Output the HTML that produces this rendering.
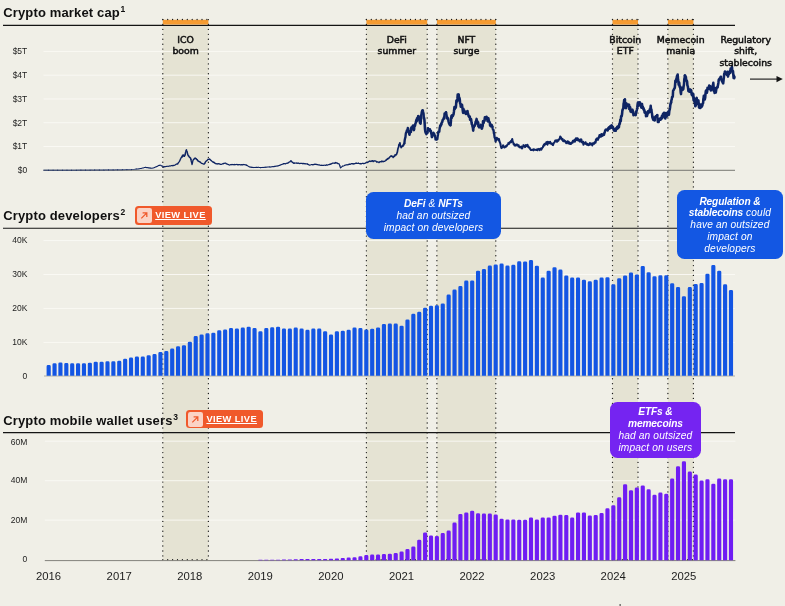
<!DOCTYPE html>
<html lang="en"><head><meta charset="utf-8"><title>Crypto market cap, developers and mobile wallet users</title>
<style>
html,body{margin:0;padding:0}
body{width:785px;height:606px;background:#f0efe7;overflow:hidden;position:relative;font-family:"Liberation Sans",sans-serif;color:#141414}
.chart{position:absolute;left:0;top:0}
h2{position:absolute;left:3.2px;margin:0;font-size:13px;line-height:16px;font-weight:700;letter-spacing:.15px;color:#101010;white-space:nowrap}
h2 sup{font-size:8.5px;line-height:0;vertical-align:baseline;position:relative;top:-4.6px;margin-left:.6px}
.yl{position:absolute;left:0;width:27.3px;text-align:right;font-size:8.5px;line-height:11px;color:#1c1c1c}
.yr{position:absolute;top:568.3px;width:40px;text-align:center;font-size:11.3px;line-height:16px;color:#1d1d1d}
.ev{position:absolute;top:33.6px;width:80px;text-align:center;font-family:"DejaVu Sans","Liberation Sans",sans-serif;font-size:9.3px;line-height:11.7px;font-weight:400;color:#121212;letter-spacing:0;-webkit-text-stroke:.52px #121212}
.btn{position:absolute;height:18.5px;width:76.7px;background:#f0592b;border-radius:3.5px;text-decoration:none;display:block}
.btn i{position:absolute;left:2.2px;top:1.8px;width:14.4px;height:15px;border-radius:2.2px;background:#fbd3c5;display:block}
.btn svg{position:absolute;left:0;top:0}
.btn span{position:absolute;left:20.2px;top:3.05px;font-size:9.3px;line-height:12px;font-weight:700;color:#fff;text-decoration:underline;text-decoration-thickness:.9px;text-underline-offset:1.2px;letter-spacing:.4px;white-space:nowrap}
.co{position:absolute;border-radius:7.5px;color:#fff;text-align:center;font-style:italic;font-size:10.2px;line-height:11.8px;letter-spacing:.13px;box-sizing:border-box}
.co b{font-weight:700;letter-spacing:-.15px}
.blue{background:#1357e3}
.purple{background:#7524f1}
</style></head><body>
<svg class="chart" width="785" height="606" viewBox="0 0 785 606">
<rect x="162.8" y="25" width="45.6" height="535.5" fill="#e5e3d3"/>
<rect x="366.4" y="25" width="60.8" height="535.5" fill="#e5e3d3"/>
<rect x="436.9" y="25" width="58.9" height="535.5" fill="#e5e3d3"/>
<rect x="612.5" y="25" width="25.5" height="535.5" fill="#e5e3d3"/>
<rect x="667.9" y="25" width="25.5" height="535.5" fill="#e5e3d3"/>
<line x1="43.5" x2="735" y1="146.5" y2="146.5" stroke="#faf9f5" stroke-width="0.9"/>
<line x1="43.5" x2="735" y1="122.7" y2="122.7" stroke="#faf9f5" stroke-width="0.9"/>
<line x1="43.5" x2="735" y1="99.0" y2="99.0" stroke="#faf9f5" stroke-width="0.9"/>
<line x1="43.5" x2="735" y1="75.2" y2="75.2" stroke="#faf9f5" stroke-width="0.9"/>
<line x1="43.5" x2="735" y1="51.4" y2="51.4" stroke="#faf9f5" stroke-width="0.9"/>
<line x1="43.5" x2="735" y1="342.4" y2="342.4" stroke="#faf9f5" stroke-width="0.9"/>
<line x1="43.5" x2="735" y1="308.4" y2="308.4" stroke="#faf9f5" stroke-width="0.9"/>
<line x1="43.5" x2="735" y1="274.5" y2="274.5" stroke="#faf9f5" stroke-width="0.9"/>
<line x1="43.5" x2="735" y1="240.6" y2="240.6" stroke="#faf9f5" stroke-width="0.9"/>
<line x1="44.8" x2="735.4" y1="520.1" y2="520.1" stroke="#faf9f5" stroke-width="0.9"/>
<line x1="44.8" x2="735.4" y1="480.7" y2="480.7" stroke="#faf9f5" stroke-width="0.9"/>
<line x1="44.8" x2="735.4" y1="441.2" y2="441.2" stroke="#faf9f5" stroke-width="0.9"/>
<line x1="43.5" x2="735" y1="170.3" y2="170.3" stroke="#6b6b66" stroke-width="0.9"/>
<line x1="44" x2="735" y1="376.0" y2="376.0" stroke="#c6c4ba" stroke-width="1.4"/>
<line x1="44.8" x2="735.4" y1="560.6" y2="560.6" stroke="#77756f" stroke-width="0.9"/>
<line x1="3" x2="735" y1="25.35" y2="25.35" stroke="#141414" stroke-width="1.1"/>
<line x1="3" x2="735" y1="228.25" y2="228.25" stroke="#141414" stroke-width="1.1"/>
<line x1="3" x2="735" y1="432.6" y2="432.6" stroke="#141414" stroke-width="1.1"/>
<rect x="162.8" y="19.8" width="45.6" height="4.7" fill="#f59b31"/>
<line x1="162.8" x2="208.4" y1="19.5" y2="19.5" stroke="#1c1c1c" stroke-width="1.3" stroke-linecap="round" stroke-dasharray="0 4.9"/>
<line x1="162.8" x2="208.4" y1="559.6" y2="559.6" stroke="#1c1c1c" stroke-width="1.3" stroke-linecap="round" stroke-dasharray="0 4.9"/>
<rect x="366.4" y="19.8" width="60.8" height="4.7" fill="#f59b31"/>
<line x1="366.4" x2="427.2" y1="19.5" y2="19.5" stroke="#1c1c1c" stroke-width="1.3" stroke-linecap="round" stroke-dasharray="0 4.9"/>
<line x1="366.4" x2="427.2" y1="559.6" y2="559.6" stroke="#1c1c1c" stroke-width="1.3" stroke-linecap="round" stroke-dasharray="0 4.9"/>
<rect x="436.9" y="19.8" width="58.9" height="4.7" fill="#f59b31"/>
<line x1="436.9" x2="495.8" y1="19.5" y2="19.5" stroke="#1c1c1c" stroke-width="1.3" stroke-linecap="round" stroke-dasharray="0 4.9"/>
<line x1="436.9" x2="495.8" y1="559.6" y2="559.6" stroke="#1c1c1c" stroke-width="1.3" stroke-linecap="round" stroke-dasharray="0 4.9"/>
<rect x="612.5" y="19.8" width="25.5" height="4.7" fill="#f59b31"/>
<line x1="612.5" x2="638.0" y1="19.5" y2="19.5" stroke="#1c1c1c" stroke-width="1.3" stroke-linecap="round" stroke-dasharray="0 4.9"/>
<line x1="612.5" x2="638.0" y1="559.6" y2="559.6" stroke="#1c1c1c" stroke-width="1.3" stroke-linecap="round" stroke-dasharray="0 4.9"/>
<rect x="667.9" y="19.8" width="25.5" height="4.7" fill="#f59b31"/>
<line x1="667.9" x2="693.4" y1="19.5" y2="19.5" stroke="#1c1c1c" stroke-width="1.3" stroke-linecap="round" stroke-dasharray="0 4.9"/>
<line x1="667.9" x2="693.4" y1="559.6" y2="559.6" stroke="#1c1c1c" stroke-width="1.3" stroke-linecap="round" stroke-dasharray="0 4.9"/>
<line x1="162.8" x2="162.8" y1="19.6" y2="560" stroke="#1c1c1c" stroke-width="1.35" stroke-linecap="round" stroke-dasharray="0 4.92"/>
<line x1="208.4" x2="208.4" y1="19.6" y2="560" stroke="#1c1c1c" stroke-width="1.35" stroke-linecap="round" stroke-dasharray="0 4.92"/>
<line x1="366.4" x2="366.4" y1="19.6" y2="560" stroke="#1c1c1c" stroke-width="1.35" stroke-linecap="round" stroke-dasharray="0 4.92"/>
<line x1="427.2" x2="427.2" y1="19.6" y2="560" stroke="#1c1c1c" stroke-width="1.35" stroke-linecap="round" stroke-dasharray="0 4.92"/>
<line x1="436.9" x2="436.9" y1="19.6" y2="560" stroke="#1c1c1c" stroke-width="1.35" stroke-linecap="round" stroke-dasharray="0 4.92"/>
<line x1="495.8" x2="495.8" y1="19.6" y2="560" stroke="#1c1c1c" stroke-width="1.35" stroke-linecap="round" stroke-dasharray="0 4.92"/>
<line x1="612.5" x2="612.5" y1="19.6" y2="560" stroke="#1c1c1c" stroke-width="1.35" stroke-linecap="round" stroke-dasharray="0 4.92"/>
<line x1="638.0" x2="638.0" y1="19.6" y2="560" stroke="#1c1c1c" stroke-width="1.35" stroke-linecap="round" stroke-dasharray="0 4.92"/>
<line x1="667.9" x2="667.9" y1="19.6" y2="560" stroke="#1c1c1c" stroke-width="1.35" stroke-linecap="round" stroke-dasharray="0 4.92"/>
<line x1="693.4" x2="693.4" y1="19.6" y2="560" stroke="#1c1c1c" stroke-width="1.35" stroke-linecap="round" stroke-dasharray="0 4.92"/>
<path d="M46.60,375.8 V366.50 Q46.60,365.10 48.00,365.10 H49.35 Q50.75,365.10 50.75,366.50 V375.8 ZM52.48,375.8 V364.60 Q52.48,363.20 53.88,363.20 H55.23 Q56.63,363.20 56.63,364.60 V375.8 ZM58.36,375.8 V363.80 Q58.36,362.40 59.76,362.40 H61.11 Q62.51,362.40 62.51,363.80 V375.8 ZM64.25,375.8 V364.50 Q64.25,363.10 65.65,363.10 H67.00 Q68.40,363.10 68.40,364.50 V375.8 ZM70.13,375.8 V364.70 Q70.13,363.30 71.53,363.30 H72.88 Q74.28,363.30 74.28,364.70 V375.8 ZM76.01,375.8 V364.70 Q76.01,363.30 77.41,363.30 H78.76 Q80.16,363.30 80.16,364.70 V375.8 ZM81.89,375.8 V364.70 Q81.89,363.30 83.29,363.30 H84.64 Q86.04,363.30 86.04,364.70 V375.8 ZM87.77,375.8 V364.10 Q87.77,362.70 89.17,362.70 H90.52 Q91.92,362.70 91.92,364.10 V375.8 ZM93.66,375.8 V363.10 Q93.66,361.70 95.06,361.70 H96.41 Q97.81,361.70 97.81,363.10 V375.8 ZM99.54,375.8 V363.10 Q99.54,361.70 100.94,361.70 H102.29 Q103.69,361.70 103.69,363.10 V375.8 ZM105.42,375.8 V362.70 Q105.42,361.30 106.82,361.30 H108.17 Q109.57,361.30 109.57,362.70 V375.8 ZM111.30,375.8 V362.70 Q111.30,361.30 112.70,361.30 H114.05 Q115.45,361.30 115.45,362.70 V375.8 ZM117.18,375.8 V362.20 Q117.18,360.80 118.58,360.80 H119.93 Q121.33,360.80 121.33,362.20 V375.8 ZM123.07,375.8 V360.20 Q123.07,358.80 124.47,358.80 H125.82 Q127.22,358.80 127.22,360.20 V375.8 ZM128.95,375.8 V358.90 Q128.95,357.50 130.35,357.50 H131.70 Q133.10,357.50 133.10,358.90 V375.8 ZM134.83,375.8 V357.90 Q134.83,356.50 136.23,356.50 H137.58 Q138.98,356.50 138.98,357.90 V375.8 ZM140.71,375.8 V357.90 Q140.71,356.50 142.11,356.50 H143.46 Q144.86,356.50 144.86,357.90 V375.8 ZM146.59,375.8 V356.60 Q146.59,355.20 147.99,355.20 H149.34 Q150.74,355.20 150.74,356.60 V375.8 ZM152.48,375.8 V355.40 Q152.48,354.00 153.88,354.00 H155.23 Q156.63,354.00 156.63,355.40 V375.8 ZM158.36,375.8 V353.40 Q158.36,352.00 159.76,352.00 H161.11 Q162.51,352.00 162.51,353.40 V375.8 ZM164.24,375.8 V352.40 Q164.24,351.00 165.64,351.00 H166.99 Q168.39,351.00 168.39,352.40 V375.8 ZM170.12,375.8 V350.00 Q170.12,348.60 171.52,348.60 H172.87 Q174.27,348.60 174.27,350.00 V375.8 ZM176.00,375.8 V347.70 Q176.00,346.30 177.40,346.30 H178.75 Q180.15,346.30 180.15,347.70 V375.8 ZM181.89,375.8 V346.60 Q181.89,345.20 183.29,345.20 H184.64 Q186.04,345.20 186.04,346.60 V375.8 ZM187.77,375.8 V343.10 Q187.77,341.70 189.17,341.70 H190.52 Q191.92,341.70 191.92,343.10 V375.8 ZM193.65,375.8 V337.40 Q193.65,336.00 195.05,336.00 H196.40 Q197.80,336.00 197.80,337.40 V375.8 ZM199.53,375.8 V335.80 Q199.53,334.40 200.93,334.40 H202.28 Q203.68,334.40 203.68,335.80 V375.8 ZM205.41,375.8 V334.70 Q205.41,333.30 206.81,333.30 H208.16 Q209.56,333.30 209.56,334.70 V375.8 ZM211.30,375.8 V334.10 Q211.30,332.70 212.70,332.70 H214.05 Q215.45,332.70 215.45,334.10 V375.8 ZM217.18,375.8 V331.60 Q217.18,330.20 218.58,330.20 H219.93 Q221.33,330.20 221.33,331.60 V375.8 ZM223.06,375.8 V330.90 Q223.06,329.50 224.46,329.50 H225.81 Q227.21,329.50 227.21,330.90 V375.8 ZM228.94,375.8 V329.50 Q228.94,328.10 230.34,328.10 H231.69 Q233.09,328.10 233.09,329.50 V375.8 ZM234.82,375.8 V330.00 Q234.82,328.60 236.22,328.60 H237.57 Q238.97,328.60 238.97,330.00 V375.8 ZM240.71,375.8 V329.00 Q240.71,327.60 242.11,327.60 H243.46 Q244.86,327.60 244.86,329.00 V375.8 ZM246.59,375.8 V328.10 Q246.59,326.70 247.99,326.70 H249.34 Q250.74,326.70 250.74,328.10 V375.8 ZM252.47,375.8 V329.50 Q252.47,328.10 253.87,328.10 H255.22 Q256.62,328.10 256.62,329.50 V375.8 ZM258.35,375.8 V332.60 Q258.35,331.20 259.75,331.20 H261.10 Q262.50,331.20 262.50,332.60 V375.8 ZM264.23,375.8 V329.50 Q264.23,328.10 265.63,328.10 H266.98 Q268.38,328.10 268.38,329.50 V375.8 ZM270.12,375.8 V328.70 Q270.12,327.30 271.52,327.30 H272.87 Q274.27,327.30 274.27,328.70 V375.8 ZM276.00,375.8 V328.10 Q276.00,326.70 277.40,326.70 H278.75 Q280.15,326.70 280.15,328.10 V375.8 ZM281.88,375.8 V330.00 Q281.88,328.60 283.28,328.60 H284.63 Q286.03,328.60 286.03,330.00 V375.8 ZM287.76,375.8 V330.00 Q287.76,328.60 289.16,328.60 H290.51 Q291.91,328.60 291.91,330.00 V375.8 ZM293.64,375.8 V329.00 Q293.64,327.60 295.04,327.60 H296.39 Q297.79,327.60 297.79,329.00 V375.8 ZM299.53,375.8 V330.00 Q299.53,328.60 300.93,328.60 H302.28 Q303.68,328.60 303.68,330.00 V375.8 ZM305.41,375.8 V331.20 Q305.41,329.80 306.81,329.80 H308.16 Q309.56,329.80 309.56,331.20 V375.8 ZM311.29,375.8 V330.00 Q311.29,328.60 312.69,328.60 H314.04 Q315.44,328.60 315.44,330.00 V375.8 ZM317.17,375.8 V330.00 Q317.17,328.60 318.57,328.60 H319.92 Q321.32,328.60 321.32,330.00 V375.8 ZM323.05,375.8 V332.60 Q323.05,331.20 324.45,331.20 H325.80 Q327.20,331.20 327.20,332.60 V375.8 ZM328.94,375.8 V335.80 Q328.94,334.40 330.34,334.40 H331.69 Q333.09,334.40 333.09,335.80 V375.8 ZM334.82,375.8 V332.60 Q334.82,331.20 336.22,331.20 H337.57 Q338.97,331.20 338.97,332.60 V375.8 ZM340.70,375.8 V332.10 Q340.70,330.70 342.10,330.70 H343.45 Q344.85,330.70 344.85,332.10 V375.8 ZM346.58,375.8 V331.20 Q346.58,329.80 347.98,329.80 H349.33 Q350.73,329.80 350.73,331.20 V375.8 ZM352.46,375.8 V329.00 Q352.46,327.60 353.86,327.60 H355.21 Q356.61,327.60 356.61,329.00 V375.8 ZM358.35,375.8 V329.50 Q358.35,328.10 359.75,328.10 H361.10 Q362.50,328.10 362.50,329.50 V375.8 ZM364.23,375.8 V331.00 Q364.23,329.60 365.63,329.60 H366.98 Q368.38,329.60 368.38,331.00 V375.8 ZM370.11,375.8 V330.10 Q370.11,328.70 371.51,328.70 H372.86 Q374.26,328.70 374.26,330.10 V375.8 ZM375.99,375.8 V328.80 Q375.99,327.40 377.39,327.40 H378.74 Q380.14,327.40 380.14,328.80 V375.8 ZM381.87,375.8 V325.30 Q381.87,323.90 383.27,323.90 H384.62 Q386.02,323.90 386.02,325.30 V375.8 ZM387.76,375.8 V324.90 Q387.76,323.50 389.16,323.50 H390.51 Q391.91,323.50 391.91,324.90 V375.8 ZM393.64,375.8 V324.90 Q393.64,323.50 395.04,323.50 H396.39 Q397.79,323.50 397.79,324.90 V375.8 ZM399.52,375.8 V327.10 Q399.52,325.70 400.92,325.70 H402.27 Q403.67,325.70 403.67,327.10 V375.8 ZM405.40,375.8 V320.80 Q405.40,319.40 406.80,319.40 H408.15 Q409.55,319.40 409.55,320.80 V375.8 ZM411.28,375.8 V315.20 Q411.28,313.80 412.68,313.80 H414.03 Q415.43,313.80 415.43,315.20 V375.8 ZM417.17,375.8 V313.20 Q417.17,311.80 418.57,311.80 H419.92 Q421.32,311.80 421.32,313.20 V375.8 ZM423.05,375.8 V309.10 Q423.05,307.70 424.45,307.70 H425.80 Q427.20,307.70 427.20,309.10 V375.8 ZM428.93,375.8 V307.20 Q428.93,305.80 430.33,305.80 H431.68 Q433.08,305.80 433.08,307.20 V375.8 ZM434.81,375.8 V306.70 Q434.81,305.30 436.21,305.30 H437.56 Q438.96,305.30 438.96,306.70 V375.8 ZM440.69,375.8 V304.80 Q440.69,303.40 442.09,303.40 H443.44 Q444.84,303.40 444.84,304.80 V375.8 ZM446.58,375.8 V295.90 Q446.58,294.50 447.98,294.50 H449.33 Q450.73,294.50 450.73,295.90 V375.8 ZM452.46,375.8 V290.90 Q452.46,289.50 453.86,289.50 H455.21 Q456.61,289.50 456.61,290.90 V375.8 ZM458.34,375.8 V287.40 Q458.34,286.00 459.74,286.00 H461.09 Q462.49,286.00 462.49,287.40 V375.8 ZM464.22,375.8 V282.00 Q464.22,280.60 465.62,280.60 H466.97 Q468.37,280.60 468.37,282.00 V375.8 ZM470.10,375.8 V281.80 Q470.10,280.40 471.50,280.40 H472.85 Q474.25,280.40 474.25,281.80 V375.8 ZM475.99,375.8 V272.10 Q475.99,270.70 477.39,270.70 H478.74 Q480.14,270.70 480.14,272.10 V375.8 ZM481.87,375.8 V270.50 Q481.87,269.10 483.27,269.10 H484.62 Q486.02,269.10 486.02,270.50 V375.8 ZM487.75,375.8 V266.90 Q487.75,265.50 489.15,265.50 H490.50 Q491.90,265.50 491.90,266.90 V375.8 ZM493.63,375.8 V265.80 Q493.63,264.40 495.03,264.40 H496.38 Q497.78,264.40 497.78,265.80 V375.8 ZM499.51,375.8 V264.90 Q499.51,263.50 500.91,263.50 H502.26 Q503.66,263.50 503.66,264.90 V375.8 ZM505.40,375.8 V266.90 Q505.40,265.50 506.80,265.50 H508.15 Q509.55,265.50 509.55,266.90 V375.8 ZM511.28,375.8 V266.20 Q511.28,264.80 512.68,264.80 H514.03 Q515.43,264.80 515.43,266.20 V375.8 ZM517.16,375.8 V262.70 Q517.16,261.30 518.56,261.30 H519.91 Q521.31,261.30 521.31,262.70 V375.8 ZM523.04,375.8 V262.80 Q523.04,261.40 524.44,261.40 H525.79 Q527.19,261.40 527.19,262.80 V375.8 ZM528.92,375.8 V261.50 Q528.92,260.10 530.32,260.10 H531.67 Q533.07,260.10 533.07,261.50 V375.8 ZM534.81,375.8 V267.10 Q534.81,265.70 536.21,265.70 H537.56 Q538.96,265.70 538.96,267.10 V375.8 ZM540.69,375.8 V279.00 Q540.69,277.60 542.09,277.60 H543.44 Q544.84,277.60 544.84,279.00 V375.8 ZM546.57,375.8 V272.10 Q546.57,270.70 547.97,270.70 H549.32 Q550.72,270.70 550.72,272.10 V375.8 ZM552.45,375.8 V268.60 Q552.45,267.20 553.85,267.20 H555.20 Q556.60,267.20 556.60,268.60 V375.8 ZM558.33,375.8 V271.00 Q558.33,269.60 559.73,269.60 H561.08 Q562.48,269.60 562.48,271.00 V375.8 ZM564.22,375.8 V276.80 Q564.22,275.40 565.62,275.40 H566.97 Q568.37,275.40 568.37,276.80 V375.8 ZM570.10,375.8 V279.00 Q570.10,277.60 571.50,277.60 H572.85 Q574.25,277.60 574.25,279.00 V375.8 ZM575.98,375.8 V279.00 Q575.98,277.60 577.38,277.60 H578.73 Q580.13,277.60 580.13,279.00 V375.8 ZM581.86,375.8 V281.20 Q581.86,279.80 583.26,279.80 H584.61 Q586.01,279.80 586.01,281.20 V375.8 ZM587.74,375.8 V282.70 Q587.74,281.30 589.14,281.30 H590.49 Q591.89,281.30 591.89,282.70 V375.8 ZM593.63,375.8 V281.20 Q593.63,279.80 595.03,279.80 H596.38 Q597.78,279.80 597.78,281.20 V375.8 ZM599.51,375.8 V279.00 Q599.51,277.60 600.91,277.60 H602.26 Q603.66,277.60 603.66,279.00 V375.8 ZM605.39,375.8 V278.60 Q605.39,277.20 606.79,277.20 H608.14 Q609.54,277.20 609.54,278.60 V375.8 ZM611.27,375.8 V285.70 Q611.27,284.30 612.67,284.30 H614.02 Q615.42,284.30 615.42,285.70 V375.8 ZM617.15,375.8 V279.60 Q617.15,278.20 618.55,278.20 H619.90 Q621.30,278.20 621.30,279.60 V375.8 ZM623.04,375.8 V276.80 Q623.04,275.40 624.44,275.40 H625.79 Q627.19,275.40 627.19,276.80 V375.8 ZM628.92,375.8 V273.80 Q628.92,272.40 630.32,272.40 H631.67 Q633.07,272.40 633.07,273.80 V375.8 ZM634.80,375.8 V276.00 Q634.80,274.60 636.20,274.60 H637.55 Q638.95,274.60 638.95,276.00 V375.8 ZM640.68,375.8 V267.30 Q640.68,265.90 642.08,265.90 H643.43 Q644.83,265.90 644.83,267.30 V375.8 ZM646.56,375.8 V273.60 Q646.56,272.20 647.96,272.20 H649.31 Q650.71,272.20 650.71,273.60 V375.8 ZM652.45,375.8 V277.60 Q652.45,276.20 653.85,276.20 H655.20 Q656.60,276.20 656.60,277.60 V375.8 ZM658.33,375.8 V276.70 Q658.33,275.30 659.73,275.30 H661.08 Q662.48,275.30 662.48,276.70 V375.8 ZM664.21,375.8 V276.70 Q664.21,275.30 665.61,275.30 H666.96 Q668.36,275.30 668.36,276.70 V375.8 ZM670.09,375.8 V284.60 Q670.09,283.20 671.49,283.20 H672.84 Q674.24,283.20 674.24,284.60 V375.8 ZM675.97,375.8 V288.30 Q675.97,286.90 677.37,286.90 H678.72 Q680.12,286.90 680.12,288.30 V375.8 ZM681.86,375.8 V297.60 Q681.86,296.20 683.26,296.20 H684.61 Q686.01,296.20 686.01,297.60 V375.8 ZM687.74,375.8 V288.50 Q687.74,287.10 689.14,287.10 H690.49 Q691.89,287.10 691.89,288.50 V375.8 ZM693.62,375.8 V285.40 Q693.62,284.00 695.02,284.00 H696.37 Q697.77,284.00 697.77,285.40 V375.8 ZM699.50,375.8 V284.40 Q699.50,283.00 700.90,283.00 H702.25 Q703.65,283.00 703.65,284.40 V375.8 ZM705.38,375.8 V275.10 Q705.38,273.70 706.78,273.70 H708.13 Q709.53,273.70 709.53,275.10 V375.8 ZM711.27,375.8 V266.50 Q711.27,265.10 712.67,265.10 H714.02 Q715.42,265.10 715.42,266.50 V375.8 ZM717.15,375.8 V272.10 Q717.15,270.70 718.55,270.70 H719.90 Q721.30,270.70 721.30,272.10 V375.8 ZM723.03,375.8 V285.70 Q723.03,284.30 724.43,284.30 H725.78 Q727.18,284.30 727.18,285.70 V375.8 ZM728.91,375.8 V291.30 Q728.91,289.90 730.31,289.90 H731.66 Q733.06,289.90 733.06,291.30 V375.8 Z" fill="#1355e3"/>
<path d="M258.35,560.2 V560.00 Q258.35,559.80 258.55,559.80 H262.30 Q262.50,559.80 262.50,560.00 V560.2 ZM264.23,560.2 V560.00 Q264.23,559.80 264.43,559.80 H268.18 Q268.38,559.80 268.38,560.00 V560.2 ZM270.12,560.2 V559.95 Q270.12,559.70 270.37,559.70 H274.02 Q274.27,559.70 274.27,559.95 V560.2 ZM276.00,560.2 V559.95 Q276.00,559.70 276.25,559.70 H279.90 Q280.15,559.70 280.15,559.95 V560.2 ZM281.88,560.2 V559.90 Q281.88,559.60 282.18,559.60 H285.73 Q286.03,559.60 286.03,559.90 V560.2 ZM287.76,560.2 V559.85 Q287.76,559.50 288.11,559.50 H291.56 Q291.91,559.50 291.91,559.85 V560.2 ZM293.64,560.2 V559.75 Q293.64,559.30 294.09,559.30 H297.34 Q297.79,559.30 297.79,559.75 V560.2 ZM299.53,560.2 V559.55 Q299.53,558.90 300.18,558.90 H303.03 Q303.68,558.90 303.68,559.55 V560.2 ZM305.41,560.2 V559.55 Q305.41,558.90 306.06,558.90 H308.91 Q309.56,558.90 309.56,559.55 V560.2 ZM311.29,560.2 V559.55 Q311.29,558.90 311.94,558.90 H314.79 Q315.44,558.90 315.44,559.55 V560.2 ZM317.17,560.2 V559.55 Q317.17,558.90 317.82,558.90 H320.67 Q321.32,558.90 321.32,559.55 V560.2 ZM323.05,560.2 V559.55 Q323.05,558.90 323.70,558.90 H326.55 Q327.20,558.90 327.20,559.55 V560.2 ZM328.94,560.2 V559.45 Q328.94,558.70 329.69,558.70 H332.34 Q333.09,558.70 333.09,559.45 V560.2 ZM334.82,560.2 V559.35 Q334.82,558.50 335.67,558.50 H338.12 Q338.97,558.50 338.97,559.35 V560.2 ZM340.70,560.2 V559.10 Q340.70,558.00 341.80,558.00 H343.75 Q344.85,558.00 344.85,559.10 V560.2 ZM346.58,560.2 V558.90 Q346.58,557.60 347.88,557.60 H349.43 Q350.73,557.60 350.73,558.90 V560.2 ZM352.46,560.2 V558.60 Q352.46,557.20 353.86,557.20 H355.21 Q356.61,557.20 356.61,558.60 V560.2 ZM358.35,560.2 V557.70 Q358.35,556.30 359.75,556.30 H361.10 Q362.50,556.30 362.50,557.70 V560.2 ZM364.23,560.2 V556.40 Q364.23,555.00 365.63,555.00 H366.98 Q368.38,555.00 368.38,556.40 V560.2 ZM370.11,560.2 V556.00 Q370.11,554.60 371.51,554.60 H372.86 Q374.26,554.60 374.26,556.00 V560.2 ZM375.99,560.2 V556.00 Q375.99,554.60 377.39,554.60 H378.74 Q380.14,554.60 380.14,556.00 V560.2 ZM381.87,560.2 V555.50 Q381.87,554.10 383.27,554.10 H384.62 Q386.02,554.10 386.02,555.50 V560.2 ZM387.76,560.2 V555.10 Q387.76,553.70 389.16,553.70 H390.51 Q391.91,553.70 391.91,555.10 V560.2 ZM393.64,560.2 V554.30 Q393.64,552.90 395.04,552.90 H396.39 Q397.79,552.90 397.79,554.30 V560.2 ZM399.52,560.2 V552.80 Q399.52,551.40 400.92,551.40 H402.27 Q403.67,551.40 403.67,552.80 V560.2 ZM405.40,560.2 V550.40 Q405.40,549.00 406.80,549.00 H408.15 Q409.55,549.00 409.55,550.40 V560.2 ZM411.28,560.2 V547.80 Q411.28,546.40 412.68,546.40 H414.03 Q415.43,546.40 415.43,547.80 V560.2 ZM417.17,560.2 V541.10 Q417.17,539.70 418.57,539.70 H419.92 Q421.32,539.70 421.32,541.10 V560.2 ZM423.05,560.2 V533.80 Q423.05,532.40 424.45,532.40 H425.80 Q427.20,532.40 427.20,533.80 V560.2 ZM428.93,560.2 V537.00 Q428.93,535.60 430.33,535.60 H431.68 Q433.08,535.60 433.08,537.00 V560.2 ZM434.81,560.2 V537.40 Q434.81,536.00 436.21,536.00 H437.56 Q438.96,536.00 438.96,537.40 V560.2 ZM440.69,560.2 V534.40 Q440.69,533.00 442.09,533.00 H443.44 Q444.84,533.00 444.84,534.40 V560.2 ZM446.58,560.2 V532.00 Q446.58,530.60 447.98,530.60 H449.33 Q450.73,530.60 450.73,532.00 V560.2 ZM452.46,560.2 V524.00 Q452.46,522.60 453.86,522.60 H455.21 Q456.61,522.60 456.61,524.00 V560.2 ZM458.34,560.2 V515.30 Q458.34,513.90 459.74,513.90 H461.09 Q462.49,513.90 462.49,515.30 V560.2 ZM464.22,560.2 V513.80 Q464.22,512.40 465.62,512.40 H466.97 Q468.37,512.40 468.37,513.80 V560.2 ZM470.10,560.2 V512.10 Q470.10,510.70 471.50,510.70 H472.85 Q474.25,510.70 474.25,512.10 V560.2 ZM475.99,560.2 V514.70 Q475.99,513.30 477.39,513.30 H478.74 Q480.14,513.30 480.14,514.70 V560.2 ZM481.87,560.2 V514.90 Q481.87,513.50 483.27,513.50 H484.62 Q486.02,513.50 486.02,514.90 V560.2 ZM487.75,560.2 V514.90 Q487.75,513.50 489.15,513.50 H490.50 Q491.90,513.50 491.90,514.90 V560.2 ZM493.63,560.2 V515.80 Q493.63,514.40 495.03,514.40 H496.38 Q497.78,514.40 497.78,515.80 V560.2 ZM499.51,560.2 V520.10 Q499.51,518.70 500.91,518.70 H502.26 Q503.66,518.70 503.66,520.10 V560.2 ZM505.40,560.2 V520.80 Q505.40,519.40 506.80,519.40 H508.15 Q509.55,519.40 509.55,520.80 V560.2 ZM511.28,560.2 V520.80 Q511.28,519.40 512.68,519.40 H514.03 Q515.43,519.40 515.43,520.80 V560.2 ZM517.16,560.2 V521.20 Q517.16,519.80 518.56,519.80 H519.91 Q521.31,519.80 521.31,521.20 V560.2 ZM523.04,560.2 V521.20 Q523.04,519.80 524.44,519.80 H525.79 Q527.19,519.80 527.19,521.20 V560.2 ZM528.92,560.2 V518.80 Q528.92,517.40 530.32,517.40 H531.67 Q533.07,517.40 533.07,518.80 V560.2 ZM534.81,560.2 V520.80 Q534.81,519.40 536.21,519.40 H537.56 Q538.96,519.40 538.96,520.80 V560.2 ZM540.69,560.2 V518.80 Q540.69,517.40 542.09,517.40 H543.44 Q544.84,517.40 544.84,518.80 V560.2 ZM546.57,560.2 V518.80 Q546.57,517.40 547.97,517.40 H549.32 Q550.72,517.40 550.72,518.80 V560.2 ZM552.45,560.2 V517.10 Q552.45,515.70 553.85,515.70 H555.20 Q556.60,515.70 556.60,517.10 V560.2 ZM558.33,560.2 V516.10 Q558.33,514.70 559.73,514.70 H561.08 Q562.48,514.70 562.48,516.10 V560.2 ZM564.22,560.2 V516.30 Q564.22,514.90 565.62,514.90 H566.97 Q568.37,514.90 568.37,516.30 V560.2 ZM570.10,560.2 V518.90 Q570.10,517.50 571.50,517.50 H572.85 Q574.25,517.50 574.25,518.90 V560.2 ZM575.98,560.2 V513.80 Q575.98,512.40 577.38,512.40 H578.73 Q580.13,512.40 580.13,513.80 V560.2 ZM581.86,560.2 V513.80 Q581.86,512.40 583.26,512.40 H584.61 Q586.01,512.40 586.01,513.80 V560.2 ZM587.74,560.2 V516.80 Q587.74,515.40 589.14,515.40 H590.49 Q591.89,515.40 591.89,516.80 V560.2 ZM593.63,560.2 V516.30 Q593.63,514.90 595.03,514.90 H596.38 Q597.78,514.90 597.78,516.30 V560.2 ZM599.51,560.2 V514.30 Q599.51,512.90 600.91,512.90 H602.26 Q603.66,512.90 603.66,514.30 V560.2 ZM605.39,560.2 V509.70 Q605.39,508.30 606.79,508.30 H608.14 Q609.54,508.30 609.54,509.70 V560.2 ZM611.27,560.2 V506.70 Q611.27,505.30 612.67,505.30 H614.02 Q615.42,505.30 615.42,506.70 V560.2 ZM617.15,560.2 V498.70 Q617.15,497.30 618.55,497.30 H619.90 Q621.30,497.30 621.30,498.70 V560.2 ZM623.04,560.2 V485.60 Q623.04,484.20 624.44,484.20 H625.79 Q627.19,484.20 627.19,485.60 V560.2 ZM628.92,560.2 V491.60 Q628.92,490.20 630.32,490.20 H631.67 Q633.07,490.20 633.07,491.60 V560.2 ZM634.80,560.2 V488.80 Q634.80,487.40 636.20,487.40 H637.55 Q638.95,487.40 638.95,488.80 V560.2 ZM640.68,560.2 V486.80 Q640.68,485.40 642.08,485.40 H643.43 Q644.83,485.40 644.83,486.80 V560.2 ZM646.56,560.2 V490.70 Q646.56,489.30 647.96,489.30 H649.31 Q650.71,489.30 650.71,490.70 V560.2 ZM652.45,560.2 V496.20 Q652.45,494.80 653.85,494.80 H655.20 Q656.60,494.80 656.60,496.20 V560.2 ZM658.33,560.2 V493.90 Q658.33,492.50 659.73,492.50 H661.08 Q662.48,492.50 662.48,493.90 V560.2 ZM664.21,560.2 V495.20 Q664.21,493.80 665.61,493.80 H666.96 Q668.36,493.80 668.36,495.20 V560.2 ZM670.09,560.2 V479.90 Q670.09,478.50 671.49,478.50 H672.84 Q674.24,478.50 674.24,479.90 V560.2 ZM675.97,560.2 V467.70 Q675.97,466.30 677.37,466.30 H678.72 Q680.12,466.30 680.12,467.70 V560.2 ZM681.86,560.2 V462.70 Q681.86,461.30 683.26,461.30 H684.61 Q686.01,461.30 686.01,462.70 V560.2 ZM687.74,560.2 V473.00 Q687.74,471.60 689.14,471.60 H690.49 Q691.89,471.60 691.89,473.00 V560.2 ZM693.62,560.2 V476.00 Q693.62,474.60 695.02,474.60 H696.37 Q697.77,474.60 697.77,476.00 V560.2 ZM699.50,560.2 V481.90 Q699.50,480.50 700.90,480.50 H702.25 Q703.65,480.50 703.65,481.90 V560.2 ZM705.38,560.2 V480.60 Q705.38,479.20 706.78,479.20 H708.13 Q709.53,479.20 709.53,480.60 V560.2 ZM711.27,560.2 V485.10 Q711.27,483.70 712.67,483.70 H714.02 Q715.42,483.70 715.42,485.10 V560.2 ZM717.15,560.2 V479.90 Q717.15,478.50 718.55,478.50 H719.90 Q721.30,478.50 721.30,479.90 V560.2 ZM723.03,560.2 V480.60 Q723.03,479.20 724.43,479.20 H725.78 Q727.18,479.20 727.18,480.60 V560.2 ZM728.91,560.2 V480.60 Q728.91,479.20 730.31,479.20 H731.66 Q733.06,479.20 733.06,480.60 V560.2 Z" fill="#6f1df3"/>
<path d="M43.8,170.2 L44.1,170.2 L44.5,170.2 L44.8,170.2 L45.1,170.2 L45.5,170.2 L45.8,170.2 L46.1,170.2 L46.5,170.2 L46.8,170.2 L47.1,170.2 L47.4,170.2 L47.8,170.2 L48.1,170.2 L48.4,170.2" fill="none" stroke="#0e2463" stroke-width="0.95" stroke-linejoin="round" stroke-linecap="round"/>
<path d="M48.4,170.2 L48.8,170.2 L49.1,170.2 L49.4,170.2 L49.8,170.2 L50.1,170.2 L50.4,170.2 L50.8,170.2 L51.1,170.2 L51.4,170.2 L51.8,170.2 L52.1,170.2 L52.4,170.2 L52.8,170.2 L53.1,170.2" fill="none" stroke="#0e2463" stroke-width="0.95" stroke-linejoin="round" stroke-linecap="round"/>
<path d="M53.1,170.2 L53.4,170.2 L53.7,170.2 L54.1,170.2 L54.4,170.2 L54.7,170.2 L55.1,170.2 L55.4,170.2 L55.7,170.2 L56.1,170.2 L56.4,170.2 L56.7,170.2 L57.1,170.2 L57.4,170.2 L57.7,170.2" fill="none" stroke="#0e2463" stroke-width="0.95" stroke-linejoin="round" stroke-linecap="round"/>
<path d="M57.7,170.2 L58.1,170.2 L58.4,170.2 L58.7,170.2 L59.1,170.2 L59.4,170.2 L59.7,170.2 L60.1,170.2 L60.4,170.2 L60.7,170.2 L61.0,170.2 L61.4,170.2 L61.7,170.2 L62.0,170.2 L62.4,170.2" fill="none" stroke="#0e2463" stroke-width="0.95" stroke-linejoin="round" stroke-linecap="round"/>
<path d="M62.4,170.2 L62.7,170.2 L63.0,170.2 L63.4,170.2 L63.7,170.2 L64.0,170.2 L64.4,170.2 L64.7,170.2 L65.0,170.2 L65.4,170.2 L65.7,170.2 L66.0,170.2 L66.4,170.2 L66.7,170.2 L67.0,170.2" fill="none" stroke="#0e2463" stroke-width="0.95" stroke-linejoin="round" stroke-linecap="round"/>
<path d="M67.0,170.2 L67.3,170.2 L67.7,170.2 L68.0,170.2 L68.3,170.2 L68.7,170.2 L69.0,170.2 L69.3,170.2 L69.7,170.2 L70.0,170.2 L70.3,170.2 L70.7,170.2 L71.0,170.2 L71.3,170.2 L71.6,170.2" fill="none" stroke="#0e2463" stroke-width="0.95" stroke-linejoin="round" stroke-linecap="round"/>
<path d="M71.6,170.2 L72.0,170.2 L72.3,170.2 L72.6,170.2 L73.0,170.2 L73.3,170.2 L73.6,170.2 L74.0,170.2 L74.3,170.2 L74.6,170.2 L74.9,170.2 L75.3,170.2 L75.6,170.2 L75.9,170.2 L76.3,170.2" fill="none" stroke="#0e2463" stroke-width="0.95" stroke-linejoin="round" stroke-linecap="round"/>
<path d="M76.3,170.2 L76.6,170.2 L76.9,170.2 L77.3,170.2 L77.6,170.1 L77.9,170.1 L78.2,170.1 L78.6,170.1 L78.9,170.1 L79.2,170.1 L79.6,170.1 L79.9,170.1 L80.2,170.1 L80.5,170.1 L80.9,170.1" fill="none" stroke="#0e2463" stroke-width="0.96" stroke-linejoin="round" stroke-linecap="round"/>
<path d="M80.9,170.1 L81.2,170.1 L81.5,170.1 L81.9,170.1 L82.2,170.1 L82.5,170.1 L82.9,170.1 L83.2,170.1 L83.5,170.1 L83.8,170.1 L84.2,170.1 L84.5,170.1 L84.8,170.1 L85.2,170.1 L85.5,170.1" fill="none" stroke="#0e2463" stroke-width="0.96" stroke-linejoin="round" stroke-linecap="round"/>
<path d="M85.5,170.1 L85.8,170.1 L86.2,170.1 L86.5,170.1 L86.8,170.1 L87.1,170.1 L87.5,170.1 L87.8,170.1 L88.1,170.1 L88.5,170.1 L88.8,170.1 L89.1,170.1 L89.5,170.1 L89.8,170.1 L90.1,170.1" fill="none" stroke="#0e2463" stroke-width="0.96" stroke-linejoin="round" stroke-linecap="round"/>
<path d="M90.1,170.1 L90.4,170.1 L90.8,170.1 L91.1,170.0 L91.4,170.0 L91.8,170.0 L92.1,170.0 L92.4,170.0 L92.7,170.1 L93.1,170.1 L93.4,170.1 L93.7,170.1 L94.1,170.1 L94.4,170.0 L94.7,170.0" fill="none" stroke="#0e2463" stroke-width="0.96" stroke-linejoin="round" stroke-linecap="round"/>
<path d="M94.7,170.0 L95.1,170.0 L95.4,170.0 L95.7,170.0 L96.0,170.0 L96.4,170.0 L96.7,170.0 L97.0,170.0 L97.4,170.0 L97.7,170.0 L98.0,170.0 L98.4,170.0 L98.7,170.0 L99.0,170.0 L99.3,170.0" fill="none" stroke="#0e2463" stroke-width="0.96" stroke-linejoin="round" stroke-linecap="round"/>
<path d="M99.3,170.0 L99.7,170.0 L100.0,170.0 L100.3,170.0 L100.7,170.0 L101.0,170.0 L101.3,170.0 L101.6,170.0 L102.0,170.0 L102.3,170.0 L102.6,170.0 L103.0,170.0 L103.3,170.0 L103.6,170.0 L103.9,170.0" fill="none" stroke="#0e2463" stroke-width="0.96" stroke-linejoin="round" stroke-linecap="round"/>
<path d="M103.9,170.0 L104.3,170.0 L104.6,170.0 L104.9,170.0 L105.2,169.9 L105.6,169.9 L105.9,169.9 L106.2,169.9 L106.6,169.9 L106.9,169.9 L107.2,169.9 L107.5,169.9 L107.9,169.9 L108.2,169.9 L108.5,169.9" fill="none" stroke="#0e2463" stroke-width="0.96" stroke-linejoin="round" stroke-linecap="round"/>
<path d="M108.5,169.9 L108.9,169.9 L109.2,169.9 L109.5,169.9 L109.8,169.9 L110.2,169.9 L110.5,169.9 L110.8,169.9 L111.1,169.9 L111.5,169.9 L111.8,169.9 L112.1,169.9 L112.5,169.9 L112.8,169.9 L113.1,169.9" fill="none" stroke="#0e2463" stroke-width="0.97" stroke-linejoin="round" stroke-linecap="round"/>
<path d="M113.1,169.9 L113.4,169.9 L113.8,169.9 L114.1,169.9 L114.4,169.9 L114.8,169.9 L115.1,169.8 L115.4,169.8 L115.7,169.8 L116.1,169.8 L116.4,169.8 L116.7,169.8 L117.0,169.8 L117.4,169.8 L117.7,169.8" fill="none" stroke="#0e2463" stroke-width="0.97" stroke-linejoin="round" stroke-linecap="round"/>
<path d="M117.7,169.8 L118.0,169.8 L118.4,169.8 L118.7,169.8 L119.0,169.8 L119.3,169.8 L119.7,169.8 L120.0,169.8 L120.3,169.8 L120.7,169.8 L121.0,169.8 L121.3,169.8 L121.6,169.8 L122.0,169.7 L122.3,169.7" fill="none" stroke="#0e2463" stroke-width="0.97" stroke-linejoin="round" stroke-linecap="round"/>
<path d="M122.3,169.7 L122.6,169.7 L122.9,169.7 L123.3,169.7 L123.6,169.7 L123.9,169.7 L124.3,169.7 L124.6,169.7 L124.9,169.7 L125.2,169.7 L125.6,169.6 L125.9,169.6 L126.2,169.7 L126.5,169.6 L126.9,169.6" fill="none" stroke="#0e2463" stroke-width="0.97" stroke-linejoin="round" stroke-linecap="round"/>
<path d="M126.9,169.6 L127.2,169.6 L127.5,169.6 L127.9,169.6 L128.2,169.6 L128.5,169.6 L128.8,169.6 L129.2,169.6 L129.5,169.6 L129.8,169.5 L130.2,169.6 L130.5,169.6 L130.8,169.6 L131.1,169.6 L131.5,169.6" fill="none" stroke="#0e2463" stroke-width="0.98" stroke-linejoin="round" stroke-linecap="round"/>
<path d="M131.5,169.6 L131.8,169.5 L132.1,169.5 L132.4,169.5 L132.8,169.5 L133.1,169.5 L133.4,169.5 L133.8,169.5 L134.1,169.4 L134.4,169.4 L134.8,169.4 L135.1,169.3 L135.4,169.2 L135.7,169.2 L136.1,169.1" fill="none" stroke="#0e2463" stroke-width="0.98" stroke-linejoin="round" stroke-linecap="round"/>
<path d="M136.1,169.1 L136.4,169.1 L136.7,169.1 L137.1,169.1 L137.4,169.0 L137.7,169.0 L138.0,168.9 L138.4,168.9 L138.7,168.8 L139.0,168.7 L139.4,168.7 L139.7,168.7 L140.0,168.6 L140.3,168.4 L140.7,168.5" fill="none" stroke="#0e2463" stroke-width="1.01" stroke-linejoin="round" stroke-linecap="round"/>
<path d="M140.7,168.5 L141.0,168.4 L141.3,168.4 L141.6,168.3 L142.0,168.2 L142.3,168.1 L142.6,168.0 L142.9,168.0 L143.2,167.9 L143.6,167.9 L143.9,167.7 L144.2,167.6 L144.5,167.6 L144.9,167.5 L145.2,167.4" fill="none" stroke="#0e2463" stroke-width="1.04" stroke-linejoin="round" stroke-linecap="round"/>
<path d="M145.2,167.4 L145.5,167.3 L145.8,167.3 L146.2,167.4 L146.5,167.6 L146.8,167.6 L147.2,167.6 L147.5,167.6 L147.8,167.7 L148.2,167.8 L148.5,168.0 L148.8,167.8 L149.2,168.0 L149.5,168.0 L149.9,168.0" fill="none" stroke="#0e2463" stroke-width="1.05" stroke-linejoin="round" stroke-linecap="round"/>
<path d="M149.9,168.0 L150.2,168.1 L150.5,168.2 L150.9,168.0 L151.2,168.2 L151.5,168.2 L151.9,168.3 L152.2,168.3 L152.5,168.1 L152.8,168.1 L153.2,167.9 L153.5,167.9 L153.8,167.8 L154.1,167.7 L154.5,167.5" fill="none" stroke="#0e2463" stroke-width="1.04" stroke-linejoin="round" stroke-linecap="round"/>
<path d="M154.5,167.5 L154.8,167.4 L155.1,167.2 L155.4,167.0 L155.7,167.0 L156.1,166.9 L156.4,166.7 L156.7,166.5 L157.0,166.5 L157.4,166.2 L157.7,166.0 L158.0,165.9 L158.3,165.7 L158.7,165.4 L159.0,165.5" fill="none" stroke="#0e2463" stroke-width="1.10" stroke-linejoin="round" stroke-linecap="round"/>
<path d="M159.0,165.5 L159.4,165.4 L159.7,165.4 L160.1,165.1 L160.4,165.3 L160.7,165.3 L161.1,165.5 L161.4,166.0 L161.7,165.9 L162.1,166.1 L162.4,166.1 L162.7,166.1 L163.0,166.4 L163.4,166.8 L163.7,167.1" fill="none" stroke="#0e2463" stroke-width="1.12" stroke-linejoin="round" stroke-linecap="round"/>
<path d="M163.7,167.1 L164.0,167.0 L164.3,166.9 L164.7,166.5 L165.0,166.7 L165.3,166.7 L165.6,166.6 L166.0,166.5 L166.3,166.4 L166.6,166.4 L166.9,166.5 L167.2,166.3 L167.6,166.3 L167.9,166.3 L168.2,166.3" fill="none" stroke="#0e2463" stroke-width="1.09" stroke-linejoin="round" stroke-linecap="round"/>
<path d="M168.2,166.3 L168.5,166.3 L168.9,166.3 L169.2,166.1 L169.5,166.0 L169.8,165.9 L170.2,166.1 L170.5,165.8 L170.8,165.8 L171.2,165.5 L171.5,165.6 L171.8,165.7 L172.2,165.4 L172.5,165.6 L172.8,165.7" fill="none" stroke="#0e2463" stroke-width="1.12" stroke-linejoin="round" stroke-linecap="round"/>
<path d="M172.8,165.7 L173.2,165.3 L173.5,165.5 L173.8,165.6 L174.2,165.3 L174.5,165.3 L174.8,165.2 L175.2,164.9 L175.5,164.8 L175.8,164.3 L176.2,164.3 L176.5,164.0 L176.8,164.0 L177.1,163.9 L177.5,163.9" fill="none" stroke="#0e2463" stroke-width="1.16" stroke-linejoin="round" stroke-linecap="round"/>
<path d="M177.5,163.9 L177.8,163.8 L178.1,163.4 L178.4,162.3 L178.7,162.3 L179.1,161.8 L179.4,161.3 L179.7,161.0 L180.0,160.4 L180.3,159.2 L180.6,159.1 L180.9,158.2 L181.2,157.7 L181.6,157.0 L181.9,157.0" fill="none" stroke="#0e2463" stroke-width="1.32" stroke-linejoin="round" stroke-linecap="round"/>
<path d="M181.9,157.0 L182.2,156.7 L182.5,155.3 L182.8,155.3 L183.1,156.1 L183.4,155.1 L183.8,155.5 L184.1,156.1 L184.4,156.2 L184.7,155.2 L185.1,155.1 L185.4,153.2 L185.7,152.2 L186.1,151.1 L186.4,150.1" fill="none" stroke="#0e2463" stroke-width="1.54" stroke-linejoin="round" stroke-linecap="round"/>
<path d="M186.4,150.1 L186.7,151.0 L187.1,151.7 L187.4,153.1 L187.7,154.3 L188.0,154.9 L188.4,155.9 L188.7,155.8 L189.1,156.6 L189.4,157.1 L189.7,157.4 L190.1,157.8 L190.4,157.8 L190.7,158.5 L191.0,159.6" fill="none" stroke="#0e2463" stroke-width="1.51" stroke-linejoin="round" stroke-linecap="round"/>
<path d="M191.0,159.6 L191.3,161.6 L191.7,162.8 L192.0,164.5 L192.3,163.5 L192.7,161.6 L193.0,160.2 L193.3,160.1 L193.7,159.2 L194.0,159.4 L194.4,158.3 L194.7,158.3 L195.0,158.0 L195.4,158.3 L195.7,158.4" fill="none" stroke="#0e2463" stroke-width="1.33" stroke-linejoin="round" stroke-linecap="round"/>
<path d="M195.7,158.4 L196.0,159.1 L196.4,158.8 L196.7,159.5 L197.0,159.9 L197.4,159.6 L197.7,160.8 L198.0,160.5 L198.4,161.3 L198.7,161.3 L199.0,161.6 L199.3,161.5 L199.7,161.7 L200.0,161.9 L200.3,162.3" fill="none" stroke="#0e2463" stroke-width="1.32" stroke-linejoin="round" stroke-linecap="round"/>
<path d="M200.3,162.3 L200.7,162.6 L201.0,163.0 L201.3,163.2 L201.7,163.5 L202.0,163.3 L202.3,163.7 L202.7,163.7 L203.0,163.7 L203.3,163.9 L203.7,164.0 L204.0,164.3 L204.3,164.0 L204.7,163.4 L205.0,163.0" fill="none" stroke="#0e2463" stroke-width="1.21" stroke-linejoin="round" stroke-linecap="round"/>
<path d="M205.0,163.0 L205.3,162.1 L205.7,161.5 L206.0,161.2 L206.3,161.1 L206.7,160.6 L207.0,160.5 L207.4,160.1 L207.7,159.5 L208.1,159.1 L208.4,159.2 L208.7,159.4 L209.0,159.1 L209.3,159.4 L209.7,159.2" fill="none" stroke="#0e2463" stroke-width="1.33" stroke-linejoin="round" stroke-linecap="round"/>
<path d="M209.7,159.2 L210.0,159.3 L210.3,159.8 L210.6,159.8 L210.9,160.5 L211.2,160.4 L211.6,160.9 L211.9,161.2 L212.2,161.4 L212.6,161.7 L212.9,161.9 L213.2,162.4 L213.5,162.1 L213.9,162.2 L214.2,162.7" fill="none" stroke="#0e2463" stroke-width="1.30" stroke-linejoin="round" stroke-linecap="round"/>
<path d="M214.2,162.7 L214.5,162.9 L214.9,163.2 L215.2,163.2 L215.5,163.6 L215.8,163.8 L216.2,163.9 L216.5,163.7 L216.8,163.5 L217.2,163.8 L217.5,164.1 L217.8,163.9 L218.2,163.8 L218.5,163.7 L218.9,163.7" fill="none" stroke="#0e2463" stroke-width="1.21" stroke-linejoin="round" stroke-linecap="round"/>
<path d="M218.9,163.7 L219.2,163.9 L219.5,164.0 L219.9,164.2 L220.2,164.3 L220.6,164.2 L220.9,164.4 L221.2,164.3 L221.6,164.3 L221.9,164.2 L222.3,163.8 L222.6,163.9 L222.9,163.5 L223.3,163.7 L223.6,163.6" fill="none" stroke="#0e2463" stroke-width="1.19" stroke-linejoin="round" stroke-linecap="round"/>
<path d="M223.6,163.6 L224.0,163.2 L224.3,163.4 L224.7,163.2 L225.0,163.1 L225.3,163.1 L225.7,163.0 L226.0,163.7 L226.4,163.5 L226.7,163.9 L227.1,164.2 L227.4,164.0 L227.7,164.3 L228.1,164.6 L228.4,164.5" fill="none" stroke="#0e2463" stroke-width="1.20" stroke-linejoin="round" stroke-linecap="round"/>
<path d="M228.4,164.5 L228.8,164.5 L229.1,165.0 L229.4,165.0 L229.8,165.1 L230.1,164.9 L230.4,164.8 L230.7,164.5 L231.1,164.6 L231.4,164.8 L231.7,164.7 L232.0,164.4 L232.4,164.5 L232.7,164.5 L233.0,164.7" fill="none" stroke="#0e2463" stroke-width="1.16" stroke-linejoin="round" stroke-linecap="round"/>
<path d="M233.0,164.7 L233.3,164.7 L233.7,164.7 L234.0,164.7 L234.3,164.8 L234.6,164.4 L235.0,164.5 L235.3,164.7 L235.6,164.5 L235.9,164.6 L236.3,164.4 L236.6,164.6 L236.9,164.4 L237.2,164.5 L237.6,164.6" fill="none" stroke="#0e2463" stroke-width="1.17" stroke-linejoin="round" stroke-linecap="round"/>
<path d="M237.6,164.6 L237.9,165.0 L238.2,164.7 L238.5,164.9 L238.9,164.6 L239.2,164.6 L239.5,164.7 L239.8,164.6 L240.2,164.7 L240.5,164.9 L240.8,164.7 L241.1,164.7 L241.5,164.8 L241.8,164.6 L242.1,164.8" fill="none" stroke="#0e2463" stroke-width="1.16" stroke-linejoin="round" stroke-linecap="round"/>
<path d="M242.1,164.8 L242.4,164.8 L242.8,164.6 L243.1,164.4 L243.4,164.7 L243.8,164.6 L244.1,164.5 L244.4,164.7 L244.7,164.7 L245.0,164.8 L245.4,165.0 L245.7,164.8 L246.0,165.0 L246.4,165.3 L246.7,165.2" fill="none" stroke="#0e2463" stroke-width="1.16" stroke-linejoin="round" stroke-linecap="round"/>
<path d="M246.7,165.2 L247.1,165.5 L247.4,165.8 L247.8,165.8 L248.1,166.1 L248.4,166.3 L248.8,166.5 L249.1,166.7 L249.5,166.8 L249.8,167.1 L250.1,167.0 L250.5,167.2 L250.8,167.1 L251.1,167.1 L251.4,167.3" fill="none" stroke="#0e2463" stroke-width="1.09" stroke-linejoin="round" stroke-linecap="round"/>
<path d="M251.4,167.3 L251.8,167.4 L252.1,167.3 L252.4,167.3 L252.8,167.5 L253.1,167.4 L253.4,167.6 L253.8,167.5 L254.1,167.4 L254.4,167.5 L254.8,167.5 L255.1,167.4 L255.4,167.4 L255.7,167.5 L256.1,167.4" fill="none" stroke="#0e2463" stroke-width="1.06" stroke-linejoin="round" stroke-linecap="round"/>
<path d="M256.1,167.4 L256.4,167.3 L256.7,167.4 L257.1,167.3 L257.4,167.4 L257.7,167.4 L258.1,167.3 L258.4,167.2 L258.7,167.4 L259.0,167.4 L259.4,167.5 L259.7,167.5 L260.0,167.5 L260.4,167.6 L260.7,167.7" fill="none" stroke="#0e2463" stroke-width="1.06" stroke-linejoin="round" stroke-linecap="round"/>
<path d="M260.7,167.7 L261.0,167.5 L261.4,167.5 L261.7,167.5 L262.0,167.5 L262.3,167.5 L262.7,167.4 L263.0,167.3 L263.3,167.4 L263.7,167.5 L264.0,167.4 L264.3,167.4 L264.7,167.3 L265.0,167.3 L265.3,167.3" fill="none" stroke="#0e2463" stroke-width="1.06" stroke-linejoin="round" stroke-linecap="round"/>
<path d="M265.3,167.3 L265.7,167.2 L266.0,167.1 L266.3,167.1 L266.7,167.2 L267.0,167.2 L267.3,167.1 L267.7,167.0 L268.0,167.0 L268.3,167.0 L268.7,167.0 L269.0,167.0 L269.3,166.7 L269.7,166.9 L270.0,167.0" fill="none" stroke="#0e2463" stroke-width="1.07" stroke-linejoin="round" stroke-linecap="round"/>
<path d="M270.0,167.0 L270.3,167.0 L270.7,167.0 L271.0,167.0 L271.3,166.9 L271.7,166.8 L272.0,166.6 L272.3,166.8 L272.7,166.6 L273.0,166.8 L273.3,166.6 L273.7,166.6 L274.0,166.6 L274.3,166.6 L274.6,166.3" fill="none" stroke="#0e2463" stroke-width="1.09" stroke-linejoin="round" stroke-linecap="round"/>
<path d="M274.6,166.3 L275.0,166.4 L275.3,166.4 L275.6,166.3 L276.0,166.1 L276.3,166.2 L276.6,166.1 L277.0,165.9 L277.3,165.9 L277.6,166.1 L278.0,166.0 L278.3,165.7 L278.6,165.7 L278.9,165.5 L279.3,165.5" fill="none" stroke="#0e2463" stroke-width="1.11" stroke-linejoin="round" stroke-linecap="round"/>
<path d="M279.3,165.5 L279.6,165.4 L279.9,165.1 L280.3,165.2 L280.6,164.9 L280.9,164.9 L281.2,164.6 L281.6,164.5 L281.9,164.5 L282.2,164.3 L282.6,164.2 L282.9,164.0 L283.2,163.7 L283.6,164.0 L283.9,163.6" fill="none" stroke="#0e2463" stroke-width="1.17" stroke-linejoin="round" stroke-linecap="round"/>
<path d="M283.9,163.6 L284.2,163.5 L284.6,163.6 L284.9,163.8 L285.2,163.9 L285.6,163.8 L285.9,163.5 L286.2,163.4 L286.6,163.3 L286.9,163.2 L287.2,163.0 L287.6,163.3 L287.9,163.0 L288.2,162.7 L288.6,162.6" fill="none" stroke="#0e2463" stroke-width="1.21" stroke-linejoin="round" stroke-linecap="round"/>
<path d="M288.6,162.6 L288.9,162.2 L289.3,161.9 L289.6,161.8 L290.0,161.8 L290.3,161.4 L290.7,160.8 L291.0,160.7 L291.4,161.3 L291.7,161.6 L292.0,162.1 L292.4,162.4 L292.7,162.2 L293.0,162.8 L293.4,163.1" fill="none" stroke="#0e2463" stroke-width="1.27" stroke-linejoin="round" stroke-linecap="round"/>
<path d="M293.4,163.1 L293.7,163.1 L294.0,162.9 L294.4,163.3 L294.7,162.9 L295.1,163.0 L295.4,163.0 L295.8,163.1 L296.1,163.3 L296.4,163.1 L296.8,162.9 L297.1,163.1 L297.5,163.1 L297.8,163.4 L298.1,163.1" fill="none" stroke="#0e2463" stroke-width="1.22" stroke-linejoin="round" stroke-linecap="round"/>
<path d="M298.1,163.1 L298.5,163.2 L298.8,163.3 L299.1,163.3 L299.5,163.6 L299.8,163.6 L300.1,163.5 L300.5,163.3 L300.8,163.3 L301.1,163.3 L301.5,163.4 L301.8,163.4 L302.1,163.4 L302.4,163.4 L302.8,163.7" fill="none" stroke="#0e2463" stroke-width="1.21" stroke-linejoin="round" stroke-linecap="round"/>
<path d="M302.8,163.7 L303.1,163.4 L303.4,163.7 L303.8,163.4 L304.1,163.5 L304.4,163.8 L304.8,163.5 L305.1,163.5 L305.4,163.8 L305.8,163.8 L306.1,163.8 L306.4,163.9 L306.8,164.0 L307.1,163.8 L307.5,164.1" fill="none" stroke="#0e2463" stroke-width="1.20" stroke-linejoin="round" stroke-linecap="round"/>
<path d="M307.5,164.1 L307.8,164.2 L308.1,164.3 L308.5,164.6 L308.8,164.7 L309.2,165.2 L309.5,165.1 L309.9,165.0 L310.2,165.0 L310.5,165.0 L310.9,164.9 L311.2,164.5 L311.5,164.5 L311.9,164.5 L312.2,164.5" fill="none" stroke="#0e2463" stroke-width="1.16" stroke-linejoin="round" stroke-linecap="round"/>
<path d="M312.2,164.5 L312.5,164.7 L312.9,165.0 L313.2,164.6 L313.5,164.4 L313.9,164.7 L314.2,164.4 L314.5,164.4 L314.9,164.0 L315.2,164.3 L315.5,164.2 L315.8,164.4 L316.2,164.4 L316.5,164.6 L316.8,164.4" fill="none" stroke="#0e2463" stroke-width="1.17" stroke-linejoin="round" stroke-linecap="round"/>
<path d="M316.8,164.4 L317.1,164.7 L317.5,164.6 L317.8,164.5 L318.1,164.9 L318.4,164.9 L318.7,164.8 L319.1,165.1 L319.4,165.0 L319.7,164.9 L320.0,165.2 L320.4,165.3 L320.7,165.4 L321.0,165.4 L321.3,165.5" fill="none" stroke="#0e2463" stroke-width="1.15" stroke-linejoin="round" stroke-linecap="round"/>
<path d="M321.3,165.5 L321.7,165.2 L322.0,165.5 L322.3,165.3 L322.6,165.3 L323.0,165.4 L323.3,165.5 L323.6,165.4 L324.0,165.3 L324.3,165.1 L324.6,165.2 L325.0,165.3 L325.3,165.5 L325.6,165.3 L326.0,165.2" fill="none" stroke="#0e2463" stroke-width="1.14" stroke-linejoin="round" stroke-linecap="round"/>
<path d="M326.0,165.2 L326.3,165.0 L326.6,164.8 L326.9,164.9 L327.3,165.0 L327.6,165.2 L327.9,164.8 L328.3,164.7 L328.6,164.7 L328.9,164.7 L329.3,164.6 L329.6,164.3 L329.9,164.1 L330.3,164.3 L330.6,164.2" fill="none" stroke="#0e2463" stroke-width="1.16" stroke-linejoin="round" stroke-linecap="round"/>
<path d="M330.6,164.2 L330.9,163.9 L331.3,164.0 L331.6,163.7 L331.9,163.7 L332.3,163.2 L332.6,163.2 L332.9,163.3 L333.3,163.0 L333.6,163.1 L333.9,163.1 L334.2,163.0 L334.6,163.2 L334.9,163.4 L335.2,162.9" fill="none" stroke="#0e2463" stroke-width="1.21" stroke-linejoin="round" stroke-linecap="round"/>
<path d="M335.2,162.9 L335.6,162.4 L335.9,162.6 L336.2,162.9 L336.6,162.8 L336.9,163.0 L337.2,163.6 L337.5,163.1 L337.9,163.5 L338.2,163.5 L338.5,163.7 L338.9,163.9 L339.2,163.9 L339.5,164.9 L339.9,165.9" fill="none" stroke="#0e2463" stroke-width="1.21" stroke-linejoin="round" stroke-linecap="round"/>
<path d="M339.9,165.9 L340.2,167.0 L340.5,168.0 L340.8,167.6 L341.2,167.4 L341.5,166.9 L341.8,166.8 L342.2,166.6 L342.5,166.1 L342.9,165.9 L343.3,166.1 L343.6,166.0 L344.0,165.8 L344.3,165.6 L344.6,165.4" fill="none" stroke="#0e2463" stroke-width="1.10" stroke-linejoin="round" stroke-linecap="round"/>
<path d="M344.6,165.4 L344.9,165.2 L345.3,165.1 L345.6,165.1 L345.9,164.9 L346.3,165.0 L346.6,164.9 L346.9,164.8 L347.3,164.5 L347.6,165.0 L347.9,165.0 L348.2,164.7 L348.6,164.4 L348.9,164.3 L349.2,164.2" fill="none" stroke="#0e2463" stroke-width="1.16" stroke-linejoin="round" stroke-linecap="round"/>
<path d="M349.2,164.2 L349.6,164.5 L349.9,164.4 L350.2,164.1 L350.6,164.3 L350.9,163.8 L351.2,163.8 L351.6,163.6 L351.9,163.8 L352.2,163.7 L352.6,163.8 L352.9,163.6 L353.2,163.8 L353.6,163.8 L353.9,163.9" fill="none" stroke="#0e2463" stroke-width="1.19" stroke-linejoin="round" stroke-linecap="round"/>
<path d="M353.9,163.9 L354.3,163.7 L354.6,163.7 L354.9,163.7 L355.3,163.5 L355.6,163.2 L355.9,163.4 L356.3,163.0 L356.6,163.4 L356.9,163.3 L357.3,163.3 L357.6,163.3 L357.9,163.3 L358.2,163.4 L358.6,163.2" fill="none" stroke="#0e2463" stroke-width="1.21" stroke-linejoin="round" stroke-linecap="round"/>
<path d="M358.6,163.2 L358.9,163.4 L359.2,163.6 L359.6,163.5 L359.9,163.8 L360.2,163.9 L360.5,163.5 L360.9,163.8 L361.2,164.0 L361.5,163.8 L361.8,163.5 L362.2,163.4 L362.5,163.5 L362.8,163.4 L363.2,163.4" fill="none" stroke="#0e2463" stroke-width="1.21" stroke-linejoin="round" stroke-linecap="round"/>
<path d="M363.2,163.4 L363.5,163.7 L363.8,163.5 L364.1,163.6 L364.5,163.5 L364.8,163.3 L365.1,163.3 L365.4,163.0 L365.8,162.8 L366.1,162.7 L366.4,162.7 L366.7,162.7 L367.1,162.7 L367.4,162.4 L367.7,162.4" fill="none" stroke="#0e2463" stroke-width="1.23" stroke-linejoin="round" stroke-linecap="round"/>
<path d="M367.7,162.4 L368.0,161.8 L368.4,161.8 L368.7,161.7 L369.0,161.3 L369.3,161.2 L369.7,161.0 L370.0,161.4 L370.3,161.2 L370.6,161.1 L371.0,161.5 L371.3,161.3 L371.6,161.2 L371.9,160.9 L372.3,160.7" fill="none" stroke="#0e2463" stroke-width="1.29" stroke-linejoin="round" stroke-linecap="round"/>
<path d="M372.3,160.7 L372.6,160.9 L372.9,161.6 L373.2,161.3 L373.6,161.5 L373.9,160.6 L374.2,161.0 L374.6,160.9 L374.9,160.8 L375.2,160.9 L375.6,161.2 L375.9,161.2 L376.2,161.2 L376.6,161.9 L376.9,162.0" fill="none" stroke="#0e2463" stroke-width="1.30" stroke-linejoin="round" stroke-linecap="round"/>
<path d="M376.9,162.0 L377.2,162.0 L377.6,161.8 L377.9,161.9 L378.2,162.0 L378.6,162.2 L378.9,162.7 L379.2,162.5 L379.5,161.9 L379.9,162.0 L380.2,161.7 L380.5,161.7 L380.8,161.6 L381.2,161.8 L381.5,161.3" fill="none" stroke="#0e2463" stroke-width="1.27" stroke-linejoin="round" stroke-linecap="round"/>
<path d="M381.5,161.3 L381.8,161.6 L382.1,161.6 L382.4,161.4 L382.8,161.1 L383.1,161.8 L383.4,161.6 L383.7,161.3 L384.1,161.3 L384.4,161.3 L384.7,161.3 L385.0,161.0 L385.4,160.6 L385.7,160.7 L386.1,160.1" fill="none" stroke="#0e2463" stroke-width="1.30" stroke-linejoin="round" stroke-linecap="round"/>
<path d="M386.1,160.1 L386.4,159.5 L386.8,159.6 L387.1,159.0 L387.4,159.3 L387.8,158.4 L388.1,158.8 L388.5,158.6 L388.8,157.9 L389.1,157.8 L389.4,157.9 L389.7,157.0 L390.1,156.9 L390.4,156.6 L390.7,156.2" fill="none" stroke="#0e2463" stroke-width="1.41" stroke-linejoin="round" stroke-linecap="round"/>
<path d="M390.7,156.2 L391.0,156.3 L391.3,156.3 L391.6,155.8 L391.9,156.0 L392.2,156.7 L392.6,156.9 L392.9,156.6 L393.2,157.5 L393.5,156.6 L393.8,156.2 L394.1,156.5 L394.4,156.6 L394.7,156.3 L395.1,155.0" fill="none" stroke="#0e2463" stroke-width="1.48" stroke-linejoin="round" stroke-linecap="round"/>
<path d="M395.1,155.0 L395.4,155.0 L395.7,154.9 L396.0,154.9 L396.3,154.5 L396.6,154.2 L396.9,153.2 L397.3,152.3 L397.6,150.6 L397.9,148.8 L398.2,148.0 L398.6,146.9 L398.9,144.9 L399.2,144.3 L399.6,144.9" fill="none" stroke="#0e2463" stroke-width="1.69" stroke-linejoin="round" stroke-linecap="round"/>
<path d="M399.6,144.9 L399.9,143.0 L400.2,145.7 L400.6,146.2 L400.9,146.7 L401.3,147.5 L401.6,146.6 L402.0,146.4 L402.3,145.9 L402.7,146.1 L403.0,145.3 L403.4,145.6 L403.7,144.2 L404.0,144.1 L404.4,143.3" fill="none" stroke="#0e2463" stroke-width="1.89" stroke-linejoin="round" stroke-linecap="round"/>
<path d="M404.4,143.3 L404.7,140.2 L405.1,138.1 L405.4,137.5 L405.8,133.7 L406.1,132.4 L406.4,132.6 L406.8,130.5 L407.1,130.3 L407.5,129.6 L407.8,127.9 L408.2,128.5 L408.5,131.8 L408.9,132.0 L409.2,133.5" fill="none" stroke="#0e2463" stroke-width="2.35" stroke-linejoin="round" stroke-linecap="round"/>
<path d="M409.2,133.5 L409.5,134.7 L409.9,132.1 L410.2,130.8 L410.5,132.1 L410.9,132.1 L411.2,128.0 L411.5,127.3 L411.9,128.5 L412.2,127.5 L412.5,126.3 L412.8,127.5 L413.1,125.5 L413.5,128.3 L413.8,130.0" fill="none" stroke="#0e2463" stroke-width="2.50" stroke-linejoin="round" stroke-linecap="round"/>
<path d="M413.8,130.0 L414.1,129.6 L414.4,125.9 L414.7,125.4 L415.0,125.9 L415.3,124.0 L415.6,123.2 L416.0,121.9 L416.3,120.1 L416.7,121.3 L417.0,118.3 L417.3,118.5 L417.6,118.5 L418.0,116.9 L418.3,116.2" fill="none" stroke="#0e2463" stroke-width="2.55" stroke-linejoin="round" stroke-linecap="round"/>
<path d="M418.3,116.2 L418.6,116.7 L418.9,118.5 L419.3,120.3 L419.6,121.0 L420.0,123.0 L420.3,122.1 L420.6,123.7 L420.9,118.8 L421.2,115.3 L421.5,114.6 L421.8,112.1 L422.1,111.1 L422.5,110.2 L422.8,110.7" fill="none" stroke="#0e2463" stroke-width="2.55" stroke-linejoin="round" stroke-linecap="round"/>
<path d="M422.8,110.7 L423.1,112.1 L423.5,113.5 L423.8,118.3 L424.1,117.9 L424.4,119.7 L424.7,124.2 L425.0,129.1 L425.3,131.4 L425.7,132.9 L426.0,133.0 L426.4,134.1 L426.7,133.3 L427.0,132.5 L427.4,132.6" fill="none" stroke="#0e2463" stroke-width="2.55" stroke-linejoin="round" stroke-linecap="round"/>
<path d="M427.4,132.6 L427.7,129.4 L428.0,128.3 L428.3,130.2 L428.6,129.3 L428.9,129.4 L429.3,130.2 L429.6,129.3 L429.9,129.2 L430.2,131.2 L430.5,130.8 L430.9,130.8 L431.2,133.3 L431.6,135.1 L431.9,137.1" fill="none" stroke="#0e2463" stroke-width="2.44" stroke-linejoin="round" stroke-linecap="round"/>
<path d="M431.9,137.1 L432.2,135.8 L432.5,136.5 L432.9,134.0 L433.2,132.8 L433.5,132.6 L433.8,134.6 L434.2,133.5 L434.5,135.1 L434.9,135.3 L435.2,137.2 L435.5,139.5 L435.9,139.4 L436.2,139.0 L436.6,139.4" fill="none" stroke="#0e2463" stroke-width="2.25" stroke-linejoin="round" stroke-linecap="round"/>
<path d="M436.6,139.4 L436.9,138.6 L437.3,139.1 L437.6,136.6 L438.0,134.5 L438.3,131.8 L438.6,132.5 L438.9,132.0 L439.3,131.6 L439.6,128.6 L439.9,127.4 L440.2,125.5 L440.5,126.4 L440.9,124.4 L441.2,124.6" fill="none" stroke="#0e2463" stroke-width="2.42" stroke-linejoin="round" stroke-linecap="round"/>
<path d="M441.2,124.6 L441.6,123.0 L441.9,122.6 L442.3,121.9 L442.6,120.2 L442.9,119.8 L443.3,119.1 L443.6,118.8 L444.0,117.2 L444.3,118.4 L444.6,113.5 L445.0,114.0 L445.3,113.2 L445.7,112.7 L446.0,112.4" fill="none" stroke="#0e2463" stroke-width="2.55" stroke-linejoin="round" stroke-linecap="round"/>
<path d="M446.0,112.4 L446.3,113.9 L446.6,115.7 L447.0,118.1 L447.3,117.4 L447.6,119.0 L447.9,118.1 L448.2,119.2 L448.6,121.7 L448.9,123.0 L449.2,123.4 L449.5,124.4 L449.8,124.6 L450.1,124.6 L450.4,125.2" fill="none" stroke="#0e2463" stroke-width="2.55" stroke-linejoin="round" stroke-linecap="round"/>
<path d="M450.4,125.2 L450.8,122.8 L451.1,118.5 L451.5,115.7 L451.8,117.9 L452.1,115.2 L452.5,115.8 L452.8,116.1 L453.2,114.8 L453.5,114.5 L453.9,111.9 L454.2,109.3 L454.5,107.0 L454.8,109.1 L455.1,107.2" fill="none" stroke="#0e2463" stroke-width="2.55" stroke-linejoin="round" stroke-linecap="round"/>
<path d="M455.1,107.2 L455.4,106.9 L455.8,107.7 L456.1,104.8 L456.4,100.5 L456.7,101.3 L457.0,101.5 L457.4,98.9 L457.7,94.6 L458.0,96.2 L458.4,96.9 L458.7,94.4 L459.1,100.1 L459.4,97.7 L459.8,99.7" fill="none" stroke="#0e2463" stroke-width="2.55" stroke-linejoin="round" stroke-linecap="round"/>
<path d="M459.8,99.7 L460.1,103.4 L460.5,104.4 L460.8,106.8 L461.1,106.0 L461.4,106.1 L461.7,104.6 L462.0,104.7 L462.4,107.9 L462.7,110.1 L463.1,112.9 L463.4,108.8 L463.8,110.1 L464.1,110.3 L464.4,111.6" fill="none" stroke="#0e2463" stroke-width="2.55" stroke-linejoin="round" stroke-linecap="round"/>
<path d="M464.4,111.6 L464.8,112.6 L465.1,111.6 L465.5,112.9 L465.8,113.9 L466.1,112.8 L466.5,113.5 L466.8,113.8 L467.2,111.2 L467.5,111.0 L467.8,113.7 L468.1,113.8 L468.5,115.3 L468.8,116.4 L469.1,116.5" fill="none" stroke="#0e2463" stroke-width="2.55" stroke-linejoin="round" stroke-linecap="round"/>
<path d="M469.1,116.5 L469.4,116.9 L469.8,116.6 L470.1,119.8 L470.5,119.3 L470.8,118.8 L471.1,119.2 L471.5,122.3 L471.8,124.2 L472.2,124.4 L472.5,126.5 L472.9,127.8 L473.2,130.7 L473.5,127.5 L473.9,126.8" fill="none" stroke="#0e2463" stroke-width="2.55" stroke-linejoin="round" stroke-linecap="round"/>
<path d="M473.9,126.8 L474.2,125.8 L474.6,126.0 L474.9,125.2 L475.2,124.7 L475.6,121.8 L475.9,122.6 L476.3,120.3 L476.6,118.9 L476.9,122.8 L477.2,121.2 L477.6,121.6 L477.9,124.4 L478.2,122.6 L478.5,126.1" fill="none" stroke="#0e2463" stroke-width="2.55" stroke-linejoin="round" stroke-linecap="round"/>
<path d="M478.5,126.1 L478.8,126.4 L479.2,127.4 L479.5,126.8 L479.9,127.0 L480.2,126.0 L480.6,124.9 L480.9,126.8 L481.3,126.4 L481.6,128.6 L482.0,128.6 L482.3,127.0 L482.7,126.1 L483.0,121.4 L483.3,122.0" fill="none" stroke="#0e2463" stroke-width="2.55" stroke-linejoin="round" stroke-linecap="round"/>
<path d="M483.3,122.0 L483.7,122.9 L484.0,120.5 L484.3,121.2 L484.6,119.4 L484.9,117.2 L485.3,119.5 L485.6,117.4 L485.9,117.0 L486.2,118.5 L486.5,116.8 L486.8,117.8 L487.1,117.4 L487.5,118.9 L487.8,121.2" fill="none" stroke="#0e2463" stroke-width="2.55" stroke-linejoin="round" stroke-linecap="round"/>
<path d="M487.8,121.2 L488.1,120.9 L488.4,118.2 L488.8,120.6 L489.1,121.3 L489.4,121.9 L489.8,122.7 L490.1,125.7 L490.4,125.0 L490.7,125.4 L491.0,126.3 L491.4,124.8 L491.7,125.0 L492.0,126.3 L492.3,126.5" fill="none" stroke="#0e2463" stroke-width="2.55" stroke-linejoin="round" stroke-linecap="round"/>
<path d="M492.3,126.5 L492.6,128.2 L492.9,129.5 L493.3,129.7 L493.6,130.7 L493.9,133.3 L494.2,134.0 L494.6,137.4 L494.9,138.0 L495.3,138.9 L495.6,141.3 L496.0,140.4 L496.3,138.7 L496.6,137.9 L497.0,138.6" fill="none" stroke="#0e2463" stroke-width="2.30" stroke-linejoin="round" stroke-linecap="round"/>
<path d="M497.0,138.6 L497.4,138.7 L497.7,139.4 L498.0,138.7 L498.4,139.4 L498.7,140.4 L499.0,139.1 L499.4,141.2 L499.7,142.0 L500.0,142.6 L500.4,143.8 L500.7,145.5 L501.1,147.0 L501.4,148.1 L501.7,147.7" fill="none" stroke="#0e2463" stroke-width="2.02" stroke-linejoin="round" stroke-linecap="round"/>
<path d="M501.7,147.7 L502.1,146.7 L502.4,147.2 L502.7,145.5 L503.1,146.5 L503.4,145.3 L503.8,147.0 L504.1,147.5 L504.4,147.3 L504.8,147.5 L505.1,147.1 L505.5,146.4 L505.8,146.3 L506.1,146.7 L506.4,145.8" fill="none" stroke="#0e2463" stroke-width="1.85" stroke-linejoin="round" stroke-linecap="round"/>
<path d="M506.4,145.8 L506.8,145.5 L507.1,145.7 L507.4,144.8 L507.7,144.5 L508.0,144.1 L508.3,143.1 L508.6,143.2 L509.0,143.9 L509.3,142.9 L509.6,142.3 L509.9,142.5 L510.3,142.3 L510.6,141.6 L510.9,142.3" fill="none" stroke="#0e2463" stroke-width="1.96" stroke-linejoin="round" stroke-linecap="round"/>
<path d="M510.9,142.3 L511.2,140.8 L511.6,141.7 L511.9,139.9 L512.2,139.0 L512.5,140.2 L512.9,141.6 L513.2,142.4 L513.6,144.2 L513.9,143.8 L514.3,144.6 L514.6,145.6 L514.9,145.6 L515.2,144.7 L515.5,145.3" fill="none" stroke="#0e2463" stroke-width="2.00" stroke-linejoin="round" stroke-linecap="round"/>
<path d="M515.5,145.3 L515.9,145.6 L516.2,145.3 L516.5,144.4 L516.8,145.3 L517.1,144.4 L517.4,144.8 L517.7,145.1 L518.0,145.2 L518.4,146.6 L518.7,145.1 L519.0,146.8 L519.3,146.5 L519.6,147.4 L519.9,146.9" fill="none" stroke="#0e2463" stroke-width="1.89" stroke-linejoin="round" stroke-linecap="round"/>
<path d="M519.9,146.9 L520.3,147.4 L520.6,147.6 L521.0,147.6 L521.3,146.4 L521.7,148.3 L522.0,148.6 L522.3,148.2 L522.7,147.5 L523.0,146.2 L523.4,145.0 L523.7,146.2 L524.0,145.7 L524.3,145.9 L524.7,145.7" fill="none" stroke="#0e2463" stroke-width="1.84" stroke-linejoin="round" stroke-linecap="round"/>
<path d="M524.7,145.7 L525.0,147.2 L525.3,147.0 L525.6,146.4 L525.9,145.0 L526.2,146.0 L526.5,145.9 L526.9,146.1 L527.2,145.8 L527.5,144.7 L527.8,145.2 L528.1,147.0 L528.5,146.5 L528.8,147.5 L529.1,147.5" fill="none" stroke="#0e2463" stroke-width="1.86" stroke-linejoin="round" stroke-linecap="round"/>
<path d="M529.1,147.5 L529.4,147.5 L529.8,147.7 L530.1,149.4 L530.4,148.7 L530.7,150.0 L531.1,149.7 L531.4,150.2 L531.7,150.1 L532.0,149.8 L532.4,149.8 L532.7,149.4 L533.0,149.9 L533.4,150.6 L533.7,149.3" fill="none" stroke="#0e2463" stroke-width="1.75" stroke-linejoin="round" stroke-linecap="round"/>
<path d="M533.7,149.3 L534.0,149.2 L534.4,149.9 L534.7,150.0 L535.0,150.0 L535.4,150.0 L535.7,149.6 L536.0,150.0 L536.3,150.2 L536.7,149.7 L537.0,149.1 L537.3,150.1 L537.7,150.5 L538.0,149.6 L538.4,149.1" fill="none" stroke="#0e2463" stroke-width="1.73" stroke-linejoin="round" stroke-linecap="round"/>
<path d="M538.4,149.1 L538.7,149.1 L539.0,148.8 L539.4,149.2 L539.7,150.4 L540.1,148.8 L540.4,149.4 L540.8,149.0 L541.1,148.1 L541.4,149.8 L541.7,149.3 L542.0,148.5 L542.4,147.8 L542.7,147.5 L543.0,146.8" fill="none" stroke="#0e2463" stroke-width="1.77" stroke-linejoin="round" stroke-linecap="round"/>
<path d="M543.0,146.8 L543.3,145.8 L543.6,145.2 L543.9,144.5 L544.2,144.2 L544.5,145.6 L544.9,143.7 L545.2,143.6 L545.5,144.1 L545.8,143.5 L546.1,142.8 L546.4,142.1 L546.8,143.0 L547.1,144.1 L547.4,144.5" fill="none" stroke="#0e2463" stroke-width="1.94" stroke-linejoin="round" stroke-linecap="round"/>
<path d="M547.4,144.5 L547.8,141.8 L548.1,142.1 L548.4,142.3 L548.7,142.4 L549.1,143.0 L549.4,143.1 L549.7,142.0 L550.1,141.7 L550.4,143.5 L550.7,143.2 L551.0,143.1 L551.4,143.8 L551.7,143.5 L552.0,143.9" fill="none" stroke="#0e2463" stroke-width="1.99" stroke-linejoin="round" stroke-linecap="round"/>
<path d="M552.0,143.9 L552.4,144.4 L552.7,145.0 L553.0,145.1 L553.3,144.3 L553.6,143.0 L554.0,143.1 L554.3,142.6 L554.6,142.1 L554.9,141.8 L555.2,140.6 L555.5,140.6 L555.8,140.5 L556.1,140.5 L556.5,140.6" fill="none" stroke="#0e2463" stroke-width="2.00" stroke-linejoin="round" stroke-linecap="round"/>
<path d="M556.5,140.6 L556.8,140.5 L557.1,141.8 L557.4,141.3 L557.7,140.3 L558.0,140.5 L558.3,140.7 L558.6,139.6 L559.0,139.6 L559.3,139.3 L559.6,138.7 L559.9,138.2 L560.2,136.6 L560.5,137.9 L560.9,137.5" fill="none" stroke="#0e2463" stroke-width="2.12" stroke-linejoin="round" stroke-linecap="round"/>
<path d="M560.9,137.5 L561.2,138.5 L561.5,139.0 L561.9,139.5 L562.2,139.4 L562.5,138.9 L562.8,140.5 L563.2,141.1 L563.5,141.1 L563.8,141.1 L564.2,140.3 L564.5,140.8 L564.9,141.0 L565.2,141.7 L565.5,141.5" fill="none" stroke="#0e2463" stroke-width="2.10" stroke-linejoin="round" stroke-linecap="round"/>
<path d="M565.5,141.5 L565.9,141.6 L566.2,143.2 L566.6,142.6 L566.9,142.9 L567.3,142.8 L567.6,141.3 L567.9,141.8 L568.3,143.5 L568.6,141.8 L568.9,142.6 L569.2,142.8 L569.6,142.6 L569.9,142.8 L570.2,143.9" fill="none" stroke="#0e2463" stroke-width="2.01" stroke-linejoin="round" stroke-linecap="round"/>
<path d="M570.2,143.9 L570.6,143.3 L570.9,144.0 L571.2,143.6 L571.6,142.5 L571.9,142.7 L572.2,142.3 L572.5,142.8 L572.9,140.7 L573.2,141.7 L573.5,141.8 L573.9,140.6 L574.2,141.0 L574.5,139.9 L574.9,141.4" fill="none" stroke="#0e2463" stroke-width="2.02" stroke-linejoin="round" stroke-linecap="round"/>
<path d="M574.9,141.4 L575.2,140.2 L575.5,139.3 L575.9,138.3 L576.2,139.9 L576.5,138.6 L576.8,139.8 L577.2,140.2 L577.5,138.2 L577.8,140.1 L578.1,138.9 L578.4,139.7 L578.8,140.7 L579.1,140.7 L579.4,140.5" fill="none" stroke="#0e2463" stroke-width="2.11" stroke-linejoin="round" stroke-linecap="round"/>
<path d="M579.4,140.5 L579.7,139.8 L580.0,141.6 L580.3,140.4 L580.7,141.4 L581.0,139.3 L581.4,139.6 L581.7,141.4 L582.0,142.5 L582.4,142.5 L582.7,142.8 L583.1,141.7 L583.4,144.7 L583.8,142.8 L584.1,143.1" fill="none" stroke="#0e2463" stroke-width="2.04" stroke-linejoin="round" stroke-linecap="round"/>
<path d="M584.1,143.1 L584.4,143.4 L584.7,143.5 L585.1,143.9 L585.4,142.3 L585.7,142.2 L586.0,143.4 L586.4,144.1 L586.7,144.5 L587.0,144.8 L587.3,143.7 L587.7,144.3 L588.0,144.1 L588.3,145.3 L588.6,144.8" fill="none" stroke="#0e2463" stroke-width="1.96" stroke-linejoin="round" stroke-linecap="round"/>
<path d="M588.6,144.8 L589.0,145.0 L589.3,144.8 L589.6,144.7 L589.9,143.0 L590.3,143.4 L590.6,143.7 L590.9,144.5 L591.3,144.0 L591.6,143.6 L591.9,144.2 L592.3,145.6 L592.6,144.4 L592.9,143.2 L593.2,143.7" fill="none" stroke="#0e2463" stroke-width="1.94" stroke-linejoin="round" stroke-linecap="round"/>
<path d="M593.2,143.7 L593.6,143.3 L593.9,143.1 L594.2,143.8 L594.6,142.4 L594.9,142.6 L595.2,142.0 L595.6,142.7 L595.9,139.5 L596.2,140.8 L596.5,138.9 L596.9,139.2 L597.2,138.4 L597.5,139.3 L597.9,139.5" fill="none" stroke="#0e2463" stroke-width="2.05" stroke-linejoin="round" stroke-linecap="round"/>
<path d="M597.9,139.5 L598.2,138.3 L598.5,138.5 L598.8,137.2 L599.2,136.7 L599.5,135.1 L599.8,136.9 L600.1,136.4 L600.5,136.5 L600.8,135.0 L601.1,136.5 L601.4,134.1 L601.8,135.7 L602.1,134.6 L602.4,135.5" fill="none" stroke="#0e2463" stroke-width="2.24" stroke-linejoin="round" stroke-linecap="round"/>
<path d="M602.4,135.5 L602.7,135.4 L603.1,134.3 L603.4,134.0 L603.7,133.6 L604.0,134.9 L604.4,132.9 L604.7,132.8 L605.0,130.9 L605.4,130.0 L605.7,129.7 L606.0,129.5 L606.4,129.9 L606.7,129.8 L607.0,130.0" fill="none" stroke="#0e2463" stroke-width="2.40" stroke-linejoin="round" stroke-linecap="round"/>
<path d="M607.0,130.0 L607.4,129.5 L607.7,130.5 L608.0,129.0 L608.3,128.1 L608.7,127.7 L609.0,128.7 L609.3,127.1 L609.6,128.5 L609.9,127.8 L610.2,126.4 L610.6,127.9 L610.9,127.0 L611.2,127.7 L611.5,125.6" fill="none" stroke="#0e2463" stroke-width="2.55" stroke-linejoin="round" stroke-linecap="round"/>
<path d="M611.5,125.6 L611.8,125.8 L612.2,127.6 L612.5,126.7 L612.9,127.1 L613.2,128.7 L613.6,128.8 L613.9,130.5 L614.2,129.8 L614.5,129.6 L614.8,130.7 L615.1,129.3 L615.5,128.9 L615.8,130.7 L616.1,128.6" fill="none" stroke="#0e2463" stroke-width="2.54" stroke-linejoin="round" stroke-linecap="round"/>
<path d="M616.1,128.6 L616.4,128.7 L616.7,128.7 L617.0,127.6 L617.3,126.8 L617.6,128.6 L618.0,128.0 L618.3,126.2 L618.6,125.8 L618.9,127.3 L619.2,124.8 L619.5,123.5 L619.8,123.8 L620.2,120.9 L620.5,119.8" fill="none" stroke="#0e2463" stroke-width="2.55" stroke-linejoin="round" stroke-linecap="round"/>
<path d="M620.5,119.8 L620.8,120.9 L621.1,116.4 L621.4,115.7 L621.7,116.4 L622.1,113.8 L622.4,110.2 L622.7,109.9 L623.0,108.7 L623.3,108.5 L623.6,103.6 L623.9,102.6 L624.2,100.0 L624.5,100.9 L624.9,99.5" fill="none" stroke="#0e2463" stroke-width="2.55" stroke-linejoin="round" stroke-linecap="round"/>
<path d="M624.9,99.5 L625.2,108.0 L625.5,107.7 L625.8,106.5 L626.2,108.1 L626.5,103.4 L626.9,105.7 L627.2,105.8 L627.5,105.9 L627.8,105.2 L628.2,104.6 L628.5,105.1 L628.8,105.6 L629.1,104.8 L629.5,109.2" fill="none" stroke="#0e2463" stroke-width="2.55" stroke-linejoin="round" stroke-linecap="round"/>
<path d="M629.5,109.2 L629.8,108.9 L630.2,107.3 L630.5,111.3 L630.8,110.6 L631.2,112.0 L631.5,110.0 L631.9,109.8 L632.2,111.4 L632.5,109.8 L632.8,110.8 L633.2,112.3 L633.5,115.3 L633.8,114.5 L634.1,114.6" fill="none" stroke="#0e2463" stroke-width="2.55" stroke-linejoin="round" stroke-linecap="round"/>
<path d="M634.1,114.6 L634.4,114.0 L634.7,114.2 L635.1,114.3 L635.4,114.0 L635.7,115.1 L636.0,111.7 L636.3,112.2 L636.6,110.8 L637.0,109.5 L637.3,107.2 L637.6,104.3 L637.9,102.6 L638.2,105.2 L638.5,105.7" fill="none" stroke="#0e2463" stroke-width="2.55" stroke-linejoin="round" stroke-linecap="round"/>
<path d="M638.5,105.7 L638.8,102.6 L639.1,104.7 L639.5,104.8 L639.8,102.3 L640.1,105.1 L640.4,104.4 L640.7,103.9 L641.0,105.4 L641.3,107.7 L641.7,105.9 L642.0,103.9 L642.3,107.1 L642.6,106.5 L642.9,107.3" fill="none" stroke="#0e2463" stroke-width="2.55" stroke-linejoin="round" stroke-linecap="round"/>
<path d="M642.9,107.3 L643.3,109.0 L643.6,108.1 L643.9,110.2 L644.3,109.9 L644.6,112.7 L645.0,111.6 L645.3,112.9 L645.7,112.1 L646.0,116.1 L646.4,115.7 L646.7,115.7 L647.0,116.1 L647.4,114.2 L647.7,113.3" fill="none" stroke="#0e2463" stroke-width="2.55" stroke-linejoin="round" stroke-linecap="round"/>
<path d="M647.7,113.3 L648.0,111.3 L648.4,112.3 L648.7,112.7 L649.0,111.7 L649.4,112.1 L649.7,109.3 L650.1,109.2 L650.4,108.8 L650.7,105.8 L651.0,109.5 L651.4,109.5 L651.7,112.4 L652.0,113.6 L652.3,116.5" fill="none" stroke="#0e2463" stroke-width="2.55" stroke-linejoin="round" stroke-linecap="round"/>
<path d="M652.3,116.5 L652.7,118.2 L653.0,119.0 L653.4,119.9 L653.7,119.8 L654.1,118.7 L654.4,117.6 L654.8,120.5 L655.1,117.3 L655.4,116.7 L655.8,116.5 L656.1,116.0 L656.5,116.5 L656.9,115.7 L657.2,115.2" fill="none" stroke="#0e2463" stroke-width="2.55" stroke-linejoin="round" stroke-linecap="round"/>
<path d="M657.2,115.2 L657.5,118.5 L657.9,122.0 L658.2,120.7 L658.6,122.0 L658.9,120.3 L659.2,119.5 L659.5,119.3 L659.9,118.4 L660.2,118.4 L660.5,119.0 L660.8,119.6 L661.1,118.2 L661.4,118.8 L661.7,117.5" fill="none" stroke="#0e2463" stroke-width="2.55" stroke-linejoin="round" stroke-linecap="round"/>
<path d="M661.7,117.5 L662.0,115.7 L662.4,117.9 L662.7,115.8 L663.0,113.9 L663.3,115.7 L663.6,113.8 L664.0,112.8 L664.3,116.4 L664.6,116.3 L665.0,117.0 L665.3,118.5 L665.6,115.5 L666.0,113.0 L666.3,114.6" fill="none" stroke="#0e2463" stroke-width="2.55" stroke-linejoin="round" stroke-linecap="round"/>
<path d="M666.3,114.6 L666.6,116.6 L667.0,115.3 L667.3,113.0 L667.6,112.6 L668.0,112.8 L668.3,111.6 L668.7,115.0 L669.0,114.2 L669.4,110.1 L669.7,109.9 L670.1,107.2 L670.4,104.1 L670.7,103.8 L671.1,102.4" fill="none" stroke="#0e2463" stroke-width="2.55" stroke-linejoin="round" stroke-linecap="round"/>
<path d="M671.1,102.4 L671.4,100.4 L671.8,99.1 L672.1,96.9 L672.5,96.9 L672.8,96.5 L673.1,90.7 L673.5,90.1 L673.8,89.8 L674.1,89.1 L674.4,88.3 L674.8,87.9 L675.1,84.5 L675.4,80.9 L675.7,81.8" fill="none" stroke="#0e2463" stroke-width="2.55" stroke-linejoin="round" stroke-linecap="round"/>
<path d="M675.7,81.8 L676.0,80.7 L676.4,78.7 L676.7,77.9 L677.0,75.9 L677.4,76.9 L677.7,74.5 L678.0,79.3 L678.3,81.2 L678.7,84.8 L679.0,82.3 L679.3,83.0 L679.6,86.6 L680.0,86.3 L680.3,87.5" fill="none" stroke="#0e2463" stroke-width="2.55" stroke-linejoin="round" stroke-linecap="round"/>
<path d="M680.3,87.5 L680.7,92.4 L681.0,94.1 L681.3,89.4 L681.7,90.3 L682.0,87.7 L682.3,89.4 L682.7,89.8 L683.0,87.6 L683.3,89.0 L683.6,86.4 L684.0,84.3 L684.3,79.2 L684.6,78.1 L684.9,75.5" fill="none" stroke="#0e2463" stroke-width="2.55" stroke-linejoin="round" stroke-linecap="round"/>
<path d="M684.9,75.5 L685.2,75.6 L685.5,77.2 L685.9,77.1 L686.2,80.8 L686.5,81.2 L686.8,80.7 L687.1,81.6 L687.4,85.4 L687.8,86.3 L688.1,88.3 L688.4,91.1 L688.7,90.1 L689.0,89.6 L689.3,91.0" fill="none" stroke="#0e2463" stroke-width="2.55" stroke-linejoin="round" stroke-linecap="round"/>
<path d="M689.3,91.0 L689.6,91.8 L690.0,89.5 L690.3,90.0 L690.6,91.1 L690.9,89.9 L691.2,90.5 L691.6,94.2 L691.9,94.9 L692.3,93.2 L692.6,94.4 L692.9,96.7 L693.3,94.0 L693.6,100.3 L693.9,97.9" fill="none" stroke="#0e2463" stroke-width="2.55" stroke-linejoin="round" stroke-linecap="round"/>
<path d="M693.9,97.9 L694.3,101.2 L694.6,101.5 L695.0,103.5 L695.3,106.3 L695.7,104.1 L696.0,105.4 L696.4,98.5 L696.7,97.9 L697.0,100.9 L697.4,103.7 L697.7,102.5 L698.1,103.7 L698.4,100.4 L698.7,103.9" fill="none" stroke="#0e2463" stroke-width="2.55" stroke-linejoin="round" stroke-linecap="round"/>
<path d="M698.7,103.9 L699.0,107.4 L699.4,107.7 L699.7,107.5 L700.0,107.5 L700.3,108.0 L700.7,104.5 L701.0,107.4 L701.3,105.4 L701.7,106.8 L702.0,106.2 L702.4,105.3 L702.7,103.4 L703.1,103.1 L703.4,99.6" fill="none" stroke="#0e2463" stroke-width="2.55" stroke-linejoin="round" stroke-linecap="round"/>
<path d="M703.4,99.6 L703.8,95.8 L704.1,97.8 L704.5,97.3 L704.8,99.4 L705.2,97.7 L705.5,93.9 L705.8,91.1 L706.2,91.6 L706.5,90.1 L706.9,92.8 L707.2,91.2 L707.5,87.9 L707.8,89.0 L708.2,88.8" fill="none" stroke="#0e2463" stroke-width="2.55" stroke-linejoin="round" stroke-linecap="round"/>
<path d="M708.2,88.8 L708.5,88.2 L708.8,88.2 L709.2,85.5 L709.6,87.5 L709.9,85.9 L710.3,89.5 L710.6,86.5 L710.9,90.5 L711.3,88.8 L711.6,90.1 L711.9,86.5 L712.3,89.4 L712.6,87.5 L713.0,85.1" fill="none" stroke="#0e2463" stroke-width="2.55" stroke-linejoin="round" stroke-linecap="round"/>
<path d="M713.0,85.1 L713.3,82.8 L713.6,87.6 L713.9,91.1 L714.3,87.8 L714.6,92.9 L714.9,92.8 L715.2,91.8 L715.5,91.0 L715.8,92.5 L716.2,90.1 L716.5,87.8 L716.8,87.4 L717.1,87.4 L717.4,87.3" fill="none" stroke="#0e2463" stroke-width="2.55" stroke-linejoin="round" stroke-linecap="round"/>
<path d="M717.4,87.3 L717.7,86.5 L718.1,84.4 L718.4,82.9 L718.7,79.8 L719.0,80.0 L719.4,78.7 L719.7,78.8 L720.0,78.1 L720.4,77.7 L720.7,76.7 L721.0,76.8 L721.3,79.6 L721.6,79.0 L722.0,80.9" fill="none" stroke="#0e2463" stroke-width="2.55" stroke-linejoin="round" stroke-linecap="round"/>
<path d="M722.0,80.9 L722.3,80.2 L722.6,82.7 L722.9,82.5 L723.2,83.4 L723.6,79.9 L723.9,77.3 L724.2,73.9 L724.6,72.6 L724.9,71.5 L725.3,73.5 L725.6,72.8 L726.0,72.5 L726.3,73.7 L726.7,74.6" fill="none" stroke="#0e2463" stroke-width="2.55" stroke-linejoin="round" stroke-linecap="round"/>
<path d="M726.7,74.6 L727.0,73.8 L727.4,71.7 L727.7,73.5 L728.0,76.6 L728.4,73.9 L728.7,74.1 L729.0,74.2 L729.3,73.0 L729.7,71.5 L730.0,70.9 L730.3,72.8 L730.6,68.5 L731.0,68.5 L731.3,71.1" fill="none" stroke="#0e2463" stroke-width="2.55" stroke-linejoin="round" stroke-linecap="round"/>
<path d="M731.3,71.1 L731.7,71.2 L732.0,67.0 L732.3,70.8 L732.6,71.6 L733.0,71.0 L733.3,74.6 L733.6,78.0 L733.9,75.6 L734.2,78.3 L734.5,77.1" fill="none" stroke="#0e2463" stroke-width="2.55" stroke-linejoin="round" stroke-linecap="round"/>
<line x1="750" x2="778" y1="79.1" y2="79.1" stroke="#141414" stroke-width="1.1"/>
<path d="M776.5,76 L782.8,79.1 L776.5,82.2 Z" fill="#141414"/>
<rect x="619.6" y="604" width="1" height="2" fill="#333"/>
</svg>
<h2 style="top:4.9px">Crypto market cap<sup>1</sup></h2>
<h2 style="top:207.5px">Crypto developers<sup>2</sup></h2>
<h2 style="top:412.6px">Crypto mobile wallet users<sup>3</sup></h2>
<a class="btn" style="left:135px;top:206.1px"><i><svg width="14" height="15" viewBox="0 0 14 15"><path d="M4.3 10.4 L9.6 5.1 M5.6 4.9 H9.8 V9.1" fill="none" stroke="#f0592b" stroke-width="1.3"/></svg></i><span>VIEW LIVE</span></a>
<a class="btn" style="left:186.2px;top:409.9px"><i><svg width="14" height="15" viewBox="0 0 14 15"><path d="M4.3 10.4 L9.6 5.1 M5.6 4.9 H9.8 V9.1" fill="none" stroke="#f0592b" stroke-width="1.3"/></svg></i><span>VIEW LIVE</span></a>
<div class="yl" style="top:165.1px">$0</div>
<div class="yl" style="top:141.3px">$1T</div>
<div class="yl" style="top:117.5px">$2T</div>
<div class="yl" style="top:93.8px">$3T</div>
<div class="yl" style="top:70.0px">$4T</div>
<div class="yl" style="top:46.2px">$5T</div>
<div class="yl" style="top:370.5px">0</div>
<div class="yl" style="top:336.7px">10K</div>
<div class="yl" style="top:302.9px">20K</div>
<div class="yl" style="top:269.1px">30K</div>
<div class="yl" style="top:235.3px">40K</div>
<div class="yl" style="top:554.3px">0</div>
<div class="yl" style="top:514.8px">20M</div>
<div class="yl" style="top:475.4px">40M</div>
<div class="yl" style="top:436.7px">60M</div>
<div class="yr" style="left:28.6px">2016</div>
<div class="yr" style="left:99.2px">2017</div>
<div class="yr" style="left:169.8px">2018</div>
<div class="yr" style="left:240.3px">2019</div>
<div class="yr" style="left:310.9px">2020</div>
<div class="yr" style="left:381.5px">2021</div>
<div class="yr" style="left:452.1px">2022</div>
<div class="yr" style="left:522.7px">2023</div>
<div class="yr" style="left:593.2px">2024</div>
<div class="yr" style="left:663.8px">2025</div>
<div class="ev" style="left:145.6px">ICO<br>boom</div>
<div class="ev" style="left:356.8px">DeFi<br>summer</div>
<div class="ev" style="left:426.4px">NFT<br>surge</div>
<div class="ev" style="left:585.3px">Bitcoin<br>ETF</div>
<div class="ev" style="left:640.7px">Memecoin<br>mania</div>
<div class="ev" style="left:705.7px">Regulatory<br>shift,<br>stablecoins</div>
<div class="co blue" style="left:366.2px;top:191.7px;width:134.5px;height:46.9px;padding-top:6.4px"><b>DeFi</b> &amp; <b>NFTs</b><br>had an outsized<br>impact on developers</div>
<div class="co blue" style="left:676.5px;top:190px;width:106.8px;height:69px;padding-top:5.7px"><b>Regulation &amp;</b><br><b>stablecoins</b> could<br>have an outsized<br>impact on<br>developers</div>
<div class="co purple" style="left:610.2px;top:402px;width:90.4px;height:55.9px;padding-top:4.2px"><b>ETFs &amp;</b><br><b>memecoins</b><br>had an outsized<br>impact on users</div>
</body></html>
